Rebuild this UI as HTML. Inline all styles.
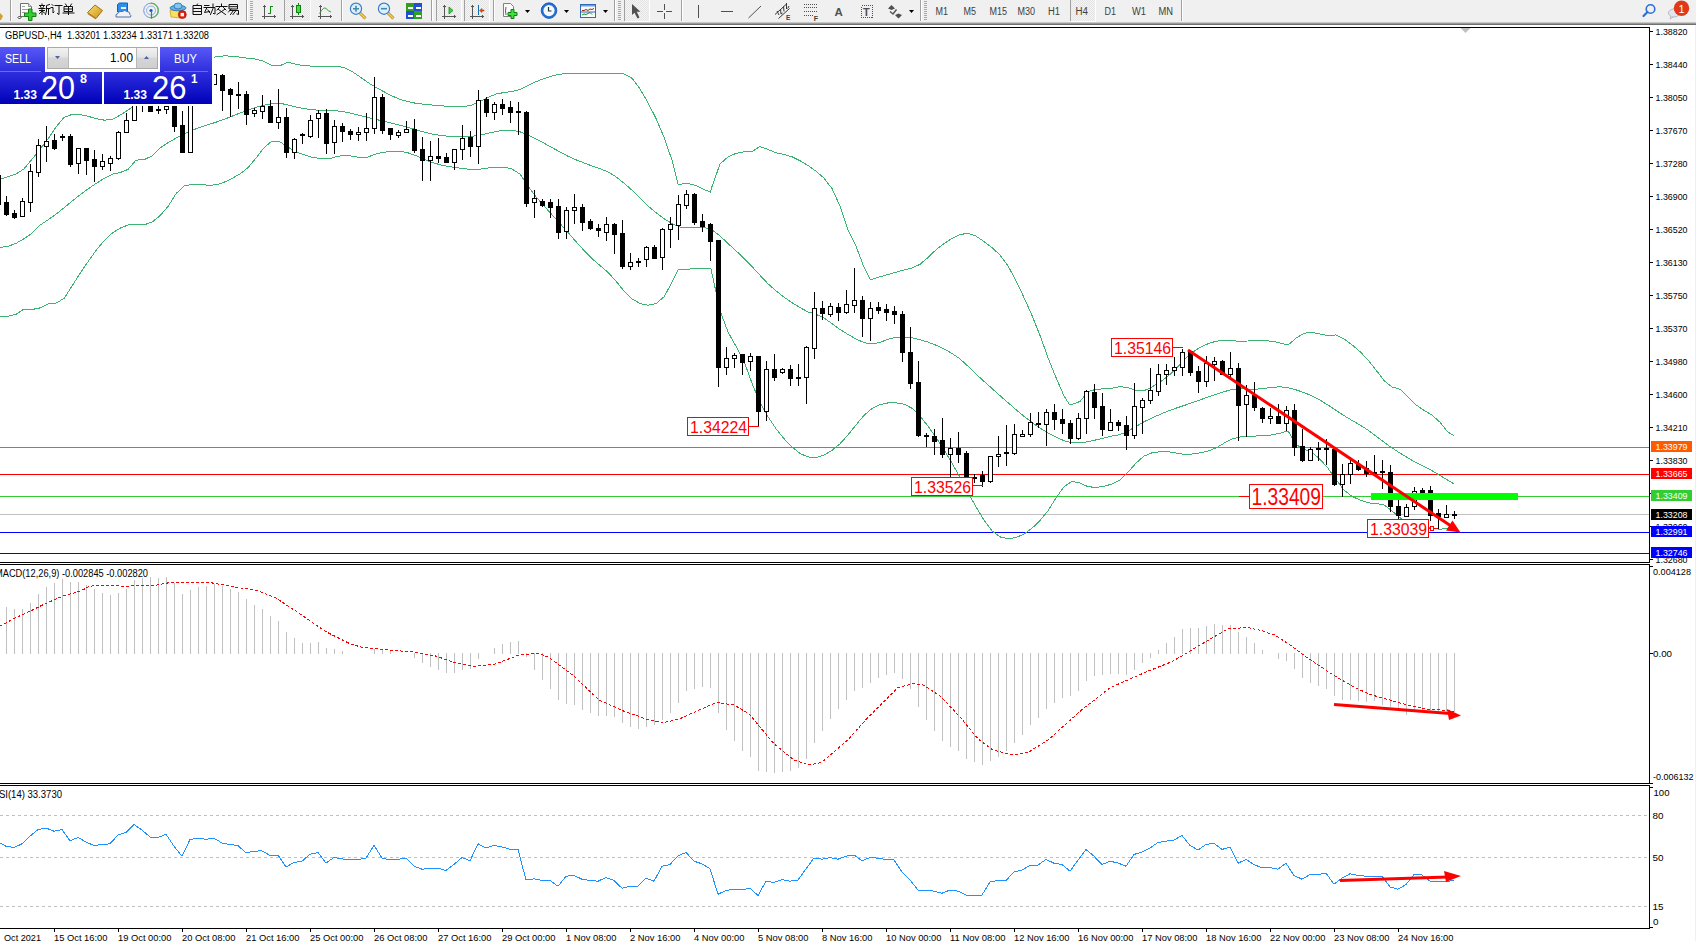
<!DOCTYPE html><html><head><meta charset="utf-8"><style>html,body{margin:0;padding:0;background:#fff;overflow:hidden;width:1696px;height:941px}svg{display:block}text{font-family:"Liberation Sans",sans-serif}</style></head><body>
<svg width="1696" height="941" viewBox="0 0 1696 941">
<rect x="0" y="0" width="1696" height="941" fill="#fff"/>
<g shape-rendering="crispEdges">
<rect x="0" y="447" width="1649" height="1" fill="#FF5A00"/>
<rect x="0" y="474" width="1649" height="1" fill="#FF0000"/>
<rect x="0" y="496" width="1649" height="1" fill="#32CD32"/>
<rect x="0" y="514" width="1649" height="1" fill="#C0C0C0"/>
<rect x="0" y="532" width="1649" height="1" fill="#0000FF"/>
<rect x="0" y="553" width="1649" height="1" fill="#0000FF"/>
</g>
<polyline points="0.0,179.3 8.0,176.7 16.0,174.0 24.0,168.9 32.0,159.3 40.0,149.2 48.0,139.0 56.0,127.0 64.0,117.5 72.0,114.4 80.0,114.5 88.0,116.3 96.0,118.6 104.0,120.1 112.0,119.7 120.0,115.2 128.0,110.0 136.0,105.2 144.0,100.2 152.0,95.1 160.0,90.0 168.0,84.7 176.0,79.2 184.0,73.8 192.0,68.8 200.0,63.7 208.0,59.3 216.0,56.6 224.0,55.9 232.0,56.1 240.0,57.2 248.0,58.3 256.0,59.1 264.0,61.4 272.0,65.6 280.0,65.7 288.0,62.2 296.0,64.4 304.0,65.7 312.0,66.1 320.0,66.1 328.0,66.3 336.0,66.3 344.0,67.5 352.0,71.5 360.0,76.9 368.0,82.6 376.0,87.4 384.0,91.8 392.0,95.9 400.0,99.3 408.0,101.7 416.0,103.3 424.0,104.3 432.0,105.0 440.0,105.7 448.0,106.4 456.0,106.8 464.0,106.5 472.0,105.0 480.0,101.6 488.0,97.4 496.0,94.1 504.0,92.5 512.0,91.6 520.0,89.5 528.0,85.3 536.0,81.7 544.0,78.6 552.0,76.0 560.0,74.2 568.0,73.4 576.0,73.1 584.0,73.2 592.0,73.3 600.0,73.4 608.0,73.8 616.0,73.9 624.0,74.0 632.0,78.2 640.0,89.0 648.0,102.8 656.0,118.5 664.0,137.2 672.0,160.2 678.2,184.7 680.0,184.3 688.0,183.3 696.0,185.7 704.0,189.4 710.3,192.2 712.0,186.6 720.0,164.0 728.0,157.0 736.0,153.3 744.0,151.9 752.0,151.5 760.0,146.5 768.0,149.5 776.0,152.7 784.0,154.4 792.0,156.8 800.0,160.7 808.0,165.5 816.0,171.2 824.0,178.1 832.0,188.6 840.0,206.1 848.0,229.7 856.0,246.3 864.0,267.2 870.5,279.6 872.0,279.2 880.0,276.8 888.0,274.5 896.0,272.2 904.0,270.0 912.0,268.1 920.0,264.3 928.0,257.5 936.0,249.8 944.0,243.6 952.0,238.4 960.0,234.5 968.0,233.4 976.0,236.1 984.0,241.5 992.0,247.6 1000.0,255.0 1008.0,265.8 1016.0,280.7 1024.0,297.6 1032.0,315.5 1040.0,335.4 1048.0,357.6 1056.0,377.6 1064.0,395.9 1069.6,404.9 1072.0,404.5 1080.0,401.4 1088.0,391.8 1096.0,389.2 1104.0,388.9 1112.0,388.2 1120.0,386.6 1128.0,387.6 1136.0,390.3 1144.0,390.7 1152.0,387.0 1160.0,382.0 1168.0,376.1 1176.0,368.9 1184.0,359.8 1192.0,352.6 1200.0,347.5 1208.0,343.8 1216.0,341.2 1224.0,340.3 1232.0,340.8 1240.0,341.2 1248.0,341.0 1256.0,340.7 1264.0,340.6 1272.0,341.2 1280.0,342.9 1288.0,345.1 1296.0,338.2 1304.0,333.3 1312.0,332.3 1320.0,334.1 1328.0,335.5 1336.0,334.9 1344.0,338.9 1352.0,344.8 1360.0,351.6 1368.0,360.0 1376.0,370.0 1384.0,380.6 1392.0,386.9 1400.0,389.3 1408.0,396.9 1416.0,404.8 1424.0,410.3 1432.0,415.2 1440.0,422.2 1448.0,432.2 1454.0,435.6" fill="none" stroke="#3CB371" stroke-width="1" shape-rendering="crispEdges"/>
<polyline points="0.0,247.5 8.0,246.3 16.0,243.4 24.0,238.7 32.0,233.3 40.0,225.1 48.0,219.9 56.0,214.2 64.0,207.8 72.0,201.2 80.0,194.8 88.0,189.0 96.0,183.5 104.0,178.5 112.0,174.3 120.0,172.6 128.0,169.4 136.0,160.1 144.0,159.7 152.0,155.9 160.0,148.0 168.0,142.7 176.0,138.1 184.0,133.9 192.0,130.4 200.0,127.3 208.0,124.7 216.0,122.2 224.0,119.4 232.0,116.2 240.0,113.0 248.0,110.1 256.0,107.4 264.0,105.2 272.0,103.6 280.0,103.3 288.0,104.9 296.0,107.0 304.0,108.5 312.0,109.7 320.0,110.3 328.0,110.5 336.0,110.8 344.0,111.8 352.0,113.5 360.0,115.4 368.0,117.4 376.0,119.4 384.0,121.3 392.0,123.3 400.0,125.2 408.0,127.4 416.0,129.7 424.0,132.1 432.0,134.0 440.0,135.3 448.0,136.2 456.0,136.6 464.0,136.7 472.0,136.3 480.0,135.1 488.0,133.3 496.0,131.5 504.0,130.2 512.0,130.1 520.0,131.8 528.0,135.2 536.0,139.1 544.0,143.1 552.0,147.6 560.0,152.0 568.0,156.2 576.0,159.8 584.0,162.9 592.0,166.0 600.0,168.7 608.0,171.8 616.0,176.8 624.0,183.2 632.0,190.2 640.0,198.1 648.0,205.9 656.0,212.7 664.0,218.7 672.0,223.6 680.0,227.0 688.0,227.8 696.0,227.3 704.0,227.4 712.0,229.9 720.0,235.9 728.0,243.5 736.0,250.8 744.0,258.4 752.0,266.5 760.0,275.3 768.0,283.8 776.0,290.9 784.0,297.1 792.0,302.7 800.0,307.6 808.0,311.9 816.0,314.3 824.0,318.0 832.0,323.6 840.0,329.5 848.0,334.4 856.0,339.0 864.0,342.6 872.0,344.0 880.0,342.3 888.0,339.3 896.0,337.2 904.0,337.0 912.0,337.8 920.0,339.7 928.0,342.1 936.0,345.2 944.0,348.9 952.0,353.4 960.0,358.9 968.0,366.2 976.0,374.0 984.0,381.3 992.0,388.5 1000.0,395.7 1008.0,402.6 1016.0,409.6 1024.0,416.3 1032.0,422.5 1040.0,428.1 1048.0,432.9 1056.0,437.1 1064.0,440.7 1072.0,442.8 1080.0,442.8 1088.0,441.7 1096.0,439.9 1104.0,437.9 1112.0,436.1 1120.0,434.6 1128.0,431.1 1136.0,426.4 1144.0,421.8 1152.0,417.9 1160.0,414.4 1168.0,411.1 1176.0,408.2 1184.0,405.5 1192.0,402.8 1200.0,399.9 1208.0,397.1 1216.0,394.4 1224.0,391.7 1232.0,389.5 1240.0,388.8 1248.0,389.0 1256.0,389.2 1264.0,388.4 1272.0,387.3 1280.0,386.8 1288.0,387.8 1296.0,389.8 1304.0,392.6 1312.0,395.9 1320.0,400.1 1328.0,405.1 1336.0,410.4 1344.0,415.6 1352.0,420.4 1360.0,425.0 1368.0,430.1 1376.0,436.0 1384.0,442.2 1392.0,447.9 1400.0,453.1 1408.0,458.0 1416.0,462.5 1424.0,466.6 1432.0,470.7 1440.0,475.4 1448.0,480.3 1454.0,484.0" fill="none" stroke="#3CB371" stroke-width="1" shape-rendering="crispEdges"/>
<polyline points="0.0,316.3 8.0,316.2 16.0,314.4 24.0,309.1 32.0,309.5 40.0,307.9 48.0,304.0 56.0,303.1 64.0,298.5 72.0,286.1 80.0,273.4 88.0,261.7 96.0,250.5 104.0,240.8 112.0,233.3 120.0,228.2 128.0,225.0 136.0,224.7 144.0,224.9 152.0,222.1 160.0,215.7 168.0,206.5 176.0,193.7 184.0,185.9 192.0,184.4 200.0,184.5 208.0,185.2 216.0,184.9 224.0,182.3 232.0,178.5 240.0,173.9 248.0,167.7 256.0,158.1 264.0,147.7 272.0,141.0 280.0,141.9 288.0,147.1 296.0,151.7 304.0,154.8 312.0,157.2 320.0,158.6 328.0,159.0 336.0,156.8 344.0,155.1 352.0,156.1 360.0,157.5 368.0,157.0 376.0,153.9 384.0,152.3 392.0,151.2 400.0,151.2 408.0,152.8 416.0,155.7 424.0,159.3 432.0,162.5 440.0,164.7 448.0,166.4 456.0,167.6 464.0,168.7 472.0,169.5 480.0,169.1 488.0,168.0 496.0,167.0 504.0,167.0 512.0,169.0 520.0,174.1 528.0,186.0 536.0,196.8 544.0,206.0 552.0,214.7 560.0,223.5 568.0,232.5 576.0,241.6 584.0,250.4 592.0,258.6 600.0,265.5 608.0,272.3 616.0,281.1 624.0,291.2 632.0,298.9 640.0,303.5 648.0,305.2 656.0,303.6 664.0,296.9 672.0,282.3 678.2,269.5 680.0,269.4 688.0,269.1 696.0,268.7 704.0,268.3 710.9,268.0 712.0,273.6 720.0,310.5 728.0,332.0 736.0,346.3 744.0,361.4 752.0,383.2 760.0,402.5 768.0,416.7 776.0,428.7 784.0,438.7 792.0,447.0 800.0,453.5 808.0,456.9 816.0,457.5 824.0,455.2 832.0,450.3 840.0,443.8 848.0,434.9 856.0,424.9 864.0,415.4 872.0,408.5 880.0,404.6 888.0,402.9 896.0,402.8 904.0,404.1 912.0,408.3 920.0,416.0 928.0,426.2 936.0,437.5 944.0,449.8 952.0,463.1 960.0,477.3 968.0,492.7 976.0,506.9 984.0,520.3 992.0,530.9 1000.0,536.9 1008.0,538.8 1016.0,537.6 1024.0,534.0 1032.0,528.3 1040.0,520.4 1048.0,510.8 1056.0,497.9 1064.0,486.7 1072.0,481.3 1080.0,483.1 1088.0,486.7 1096.0,487.4 1104.0,486.2 1112.0,484.1 1120.0,480.2 1128.0,472.1 1136.0,463.1 1144.0,456.1 1152.0,452.8 1160.0,451.8 1168.0,451.7 1176.0,453.0 1184.0,454.3 1192.0,454.0 1200.0,452.9 1208.0,451.0 1216.0,448.0 1224.0,443.2 1232.0,439.0 1240.0,437.0 1248.0,436.4 1256.0,436.0 1264.0,435.5 1272.0,434.9 1280.0,433.2 1288.0,430.9 1296.0,444.5 1304.0,449.3 1312.0,452.3 1320.0,459.3 1328.0,468.3 1336.0,479.4 1344.0,490.1 1352.0,496.3 1360.0,500.1 1368.0,502.8 1376.0,503.5 1384.0,504.8 1392.0,510.9 1400.0,517.7 1408.0,523.6 1416.0,528.0 1424.0,528.3 1432.0,527.8 1440.0,529.3 1448.0,528.2 1454.0,528.0" fill="none" stroke="#3CB371" stroke-width="1" shape-rendering="crispEdges"/>
<g shape-rendering="crispEdges">
<rect x="-2" y="170" width="1" height="37" fill="#000"/>
<rect x="-4" y="175" width="5" height="30" fill="#000"/>
<rect x="6" y="196" width="1" height="20" fill="#000"/>
<rect x="4" y="202" width="5" height="13" fill="#000"/>
<rect x="14" y="210" width="1" height="9" fill="#000"/>
<rect x="12" y="213" width="5" height="5" fill="#000"/>
<rect x="22" y="198" width="1" height="19" fill="#000"/>
<rect x="20" y="201" width="5" height="16" fill="#000"/>
<rect x="21" y="202" width="3" height="14" fill="#fff"/>
<rect x="30" y="164" width="1" height="48" fill="#000"/>
<rect x="28" y="171" width="5" height="32" fill="#000"/>
<rect x="29" y="172" width="3" height="30" fill="#fff"/>
<rect x="38" y="139" width="1" height="38" fill="#000"/>
<rect x="36" y="145" width="5" height="28" fill="#000"/>
<rect x="37" y="146" width="3" height="26" fill="#fff"/>
<rect x="46" y="126" width="1" height="36" fill="#000"/>
<rect x="44" y="141" width="5" height="6" fill="#000"/>
<rect x="45" y="142" width="3" height="4" fill="#fff"/>
<rect x="54" y="134" width="1" height="16" fill="#000"/>
<rect x="52" y="140" width="5" height="9" fill="#000"/>
<rect x="62" y="134" width="1" height="7" fill="#000"/>
<rect x="60" y="136" width="5" height="2" fill="#000"/>
<rect x="70" y="134" width="1" height="33" fill="#000"/>
<rect x="68" y="136" width="5" height="29" fill="#000"/>
<rect x="78" y="148" width="1" height="26" fill="#000"/>
<rect x="76" y="148" width="5" height="16" fill="#000"/>
<rect x="77" y="149" width="3" height="14" fill="#fff"/>
<rect x="86" y="148" width="1" height="27" fill="#000"/>
<rect x="84" y="148" width="5" height="13" fill="#000"/>
<rect x="94" y="150" width="1" height="32" fill="#000"/>
<rect x="92" y="159" width="5" height="8" fill="#000"/>
<rect x="102" y="154" width="1" height="16" fill="#000"/>
<rect x="100" y="161" width="5" height="6" fill="#000"/>
<rect x="101" y="162" width="3" height="4" fill="#fff"/>
<rect x="110" y="156" width="1" height="15" fill="#000"/>
<rect x="108" y="158" width="5" height="6" fill="#000"/>
<rect x="109" y="159" width="3" height="4" fill="#fff"/>
<rect x="118" y="131" width="1" height="29" fill="#000"/>
<rect x="116" y="132" width="5" height="27" fill="#000"/>
<rect x="117" y="133" width="3" height="25" fill="#fff"/>
<rect x="126" y="113" width="1" height="20" fill="#000"/>
<rect x="124" y="120" width="5" height="13" fill="#000"/>
<rect x="125" y="121" width="3" height="11" fill="#fff"/>
<rect x="134" y="95" width="1" height="26" fill="#000"/>
<rect x="132" y="100" width="5" height="21" fill="#000"/>
<rect x="133" y="101" width="3" height="19" fill="#fff"/>
<rect x="142" y="95" width="1" height="17" fill="#000"/>
<rect x="140" y="100" width="5" height="5" fill="#000"/>
<rect x="150" y="100" width="1" height="12" fill="#000"/>
<rect x="148" y="106" width="5" height="6" fill="#000"/>
<rect x="158" y="103" width="1" height="11" fill="#000"/>
<rect x="156" y="109" width="5" height="2" fill="#000"/>
<rect x="166" y="100" width="1" height="14" fill="#000"/>
<rect x="164" y="106" width="5" height="4" fill="#000"/>
<rect x="165" y="107" width="3" height="2" fill="#fff"/>
<rect x="174" y="100" width="1" height="32" fill="#000"/>
<rect x="172" y="106" width="5" height="21" fill="#000"/>
<rect x="182" y="111" width="1" height="42" fill="#000"/>
<rect x="180" y="125" width="5" height="28" fill="#000"/>
<rect x="190" y="85" width="1" height="68" fill="#000"/>
<rect x="188" y="90" width="5" height="63" fill="#000"/>
<rect x="189" y="91" width="3" height="61" fill="#fff"/>
<rect x="198" y="72" width="1" height="24" fill="#000"/>
<rect x="196" y="80" width="5" height="11" fill="#000"/>
<rect x="197" y="81" width="3" height="9" fill="#fff"/>
<rect x="206" y="70" width="1" height="19" fill="#000"/>
<rect x="204" y="75" width="5" height="8" fill="#000"/>
<rect x="205" y="76" width="3" height="6" fill="#fff"/>
<rect x="214" y="74" width="1" height="11" fill="#000"/>
<rect x="212" y="74" width="5" height="11" fill="#000"/>
<rect x="213" y="75" width="3" height="9" fill="#fff"/>
<rect x="222" y="74" width="1" height="37" fill="#000"/>
<rect x="220" y="75" width="5" height="16" fill="#000"/>
<rect x="230" y="88" width="1" height="29" fill="#000"/>
<rect x="228" y="89" width="5" height="6" fill="#000"/>
<rect x="238" y="82" width="1" height="27" fill="#000"/>
<rect x="236" y="94" width="5" height="2" fill="#000"/>
<rect x="246" y="91" width="1" height="34" fill="#000"/>
<rect x="244" y="94" width="5" height="21" fill="#000"/>
<rect x="254" y="108" width="1" height="9" fill="#000"/>
<rect x="252" y="110" width="5" height="4" fill="#000"/>
<rect x="253" y="111" width="3" height="2" fill="#fff"/>
<rect x="262" y="95" width="1" height="24" fill="#000"/>
<rect x="260" y="106" width="5" height="6" fill="#000"/>
<rect x="261" y="107" width="3" height="4" fill="#fff"/>
<rect x="270" y="100" width="1" height="23" fill="#000"/>
<rect x="268" y="106" width="5" height="17" fill="#000"/>
<rect x="278" y="89" width="1" height="40" fill="#000"/>
<rect x="276" y="117" width="5" height="6" fill="#000"/>
<rect x="277" y="118" width="3" height="4" fill="#fff"/>
<rect x="286" y="108" width="1" height="50" fill="#000"/>
<rect x="284" y="117" width="5" height="36" fill="#000"/>
<rect x="294" y="138" width="1" height="21" fill="#000"/>
<rect x="292" y="139" width="5" height="14" fill="#000"/>
<rect x="293" y="140" width="3" height="12" fill="#fff"/>
<rect x="302" y="133" width="1" height="11" fill="#000"/>
<rect x="300" y="134" width="5" height="2" fill="#000"/>
<rect x="310" y="115" width="1" height="23" fill="#000"/>
<rect x="308" y="120" width="5" height="17" fill="#000"/>
<rect x="309" y="121" width="3" height="15" fill="#fff"/>
<rect x="318" y="110" width="1" height="28" fill="#000"/>
<rect x="316" y="113" width="5" height="6" fill="#000"/>
<rect x="317" y="114" width="3" height="4" fill="#fff"/>
<rect x="326" y="109" width="1" height="45" fill="#000"/>
<rect x="324" y="113" width="5" height="31" fill="#000"/>
<rect x="334" y="120" width="1" height="34" fill="#000"/>
<rect x="332" y="126" width="5" height="17" fill="#000"/>
<rect x="333" y="127" width="3" height="15" fill="#fff"/>
<rect x="342" y="123" width="1" height="19" fill="#000"/>
<rect x="340" y="126" width="5" height="6" fill="#000"/>
<rect x="350" y="129" width="1" height="11" fill="#000"/>
<rect x="348" y="131" width="5" height="4" fill="#000"/>
<rect x="358" y="127" width="1" height="14" fill="#000"/>
<rect x="356" y="132" width="5" height="3" fill="#000"/>
<rect x="357" y="133" width="3" height="1" fill="#fff"/>
<rect x="366" y="113" width="1" height="28" fill="#000"/>
<rect x="364" y="128" width="5" height="5" fill="#000"/>
<rect x="365" y="129" width="3" height="3" fill="#fff"/>
<rect x="374" y="77" width="1" height="57" fill="#000"/>
<rect x="372" y="97" width="5" height="32" fill="#000"/>
<rect x="373" y="98" width="3" height="30" fill="#fff"/>
<rect x="382" y="94" width="1" height="40" fill="#000"/>
<rect x="380" y="97" width="5" height="34" fill="#000"/>
<rect x="390" y="128" width="1" height="12" fill="#000"/>
<rect x="388" y="128" width="5" height="7" fill="#000"/>
<rect x="398" y="130" width="1" height="8" fill="#000"/>
<rect x="396" y="132" width="5" height="4" fill="#000"/>
<rect x="397" y="133" width="3" height="2" fill="#fff"/>
<rect x="406" y="121" width="1" height="12" fill="#000"/>
<rect x="404" y="129" width="5" height="4" fill="#000"/>
<rect x="405" y="130" width="3" height="2" fill="#fff"/>
<rect x="414" y="119" width="1" height="34" fill="#000"/>
<rect x="412" y="129" width="5" height="22" fill="#000"/>
<rect x="422" y="137" width="1" height="44" fill="#000"/>
<rect x="420" y="149" width="5" height="12" fill="#000"/>
<rect x="430" y="141" width="1" height="40" fill="#000"/>
<rect x="428" y="156" width="5" height="5" fill="#000"/>
<rect x="429" y="157" width="3" height="3" fill="#fff"/>
<rect x="438" y="138" width="1" height="25" fill="#000"/>
<rect x="436" y="156" width="5" height="3" fill="#000"/>
<rect x="446" y="153" width="1" height="10" fill="#000"/>
<rect x="444" y="157" width="5" height="6" fill="#000"/>
<rect x="454" y="149" width="1" height="21" fill="#000"/>
<rect x="452" y="149" width="5" height="14" fill="#000"/>
<rect x="453" y="150" width="3" height="12" fill="#fff"/>
<rect x="462" y="125" width="1" height="35" fill="#000"/>
<rect x="460" y="138" width="5" height="12" fill="#000"/>
<rect x="461" y="139" width="3" height="10" fill="#fff"/>
<rect x="470" y="131" width="1" height="26" fill="#000"/>
<rect x="468" y="137" width="5" height="10" fill="#000"/>
<rect x="478" y="90" width="1" height="74" fill="#000"/>
<rect x="476" y="100" width="5" height="47" fill="#000"/>
<rect x="477" y="101" width="3" height="45" fill="#fff"/>
<rect x="486" y="97" width="1" height="20" fill="#000"/>
<rect x="484" y="99" width="5" height="14" fill="#000"/>
<rect x="494" y="102" width="1" height="18" fill="#000"/>
<rect x="492" y="104" width="5" height="9" fill="#000"/>
<rect x="493" y="105" width="3" height="7" fill="#fff"/>
<rect x="502" y="99" width="1" height="16" fill="#000"/>
<rect x="500" y="104" width="5" height="5" fill="#000"/>
<rect x="510" y="101" width="1" height="22" fill="#000"/>
<rect x="508" y="107" width="5" height="6" fill="#000"/>
<rect x="518" y="102" width="1" height="33" fill="#000"/>
<rect x="516" y="111" width="5" height="2" fill="#000"/>
<rect x="526" y="111" width="1" height="96" fill="#000"/>
<rect x="524" y="112" width="5" height="92" fill="#000"/>
<rect x="534" y="190" width="1" height="28" fill="#000"/>
<rect x="532" y="198" width="5" height="5" fill="#000"/>
<rect x="533" y="199" width="3" height="3" fill="#fff"/>
<rect x="542" y="199" width="1" height="8" fill="#000"/>
<rect x="540" y="201" width="5" height="5" fill="#000"/>
<rect x="550" y="199" width="1" height="19" fill="#000"/>
<rect x="548" y="202" width="5" height="6" fill="#000"/>
<rect x="558" y="199" width="1" height="40" fill="#000"/>
<rect x="556" y="206" width="5" height="27" fill="#000"/>
<rect x="566" y="207" width="1" height="32" fill="#000"/>
<rect x="564" y="210" width="5" height="22" fill="#000"/>
<rect x="565" y="211" width="3" height="20" fill="#fff"/>
<rect x="574" y="194" width="1" height="30" fill="#000"/>
<rect x="572" y="207" width="5" height="4" fill="#000"/>
<rect x="573" y="208" width="3" height="2" fill="#fff"/>
<rect x="582" y="204" width="1" height="27" fill="#000"/>
<rect x="580" y="207" width="5" height="16" fill="#000"/>
<rect x="590" y="219" width="1" height="11" fill="#000"/>
<rect x="588" y="221" width="5" height="8" fill="#000"/>
<rect x="598" y="224" width="1" height="13" fill="#000"/>
<rect x="596" y="228" width="5" height="3" fill="#000"/>
<rect x="606" y="217" width="1" height="24" fill="#000"/>
<rect x="604" y="224" width="5" height="9" fill="#000"/>
<rect x="605" y="225" width="3" height="7" fill="#fff"/>
<rect x="614" y="223" width="1" height="31" fill="#000"/>
<rect x="612" y="224" width="5" height="11" fill="#000"/>
<rect x="622" y="220" width="1" height="49" fill="#000"/>
<rect x="620" y="233" width="5" height="34" fill="#000"/>
<rect x="630" y="253" width="1" height="17" fill="#000"/>
<rect x="628" y="262" width="5" height="5" fill="#000"/>
<rect x="629" y="263" width="3" height="3" fill="#fff"/>
<rect x="638" y="258" width="1" height="9" fill="#000"/>
<rect x="636" y="261" width="5" height="2" fill="#000"/>
<rect x="646" y="246" width="1" height="21" fill="#000"/>
<rect x="644" y="247" width="5" height="13" fill="#000"/>
<rect x="645" y="248" width="3" height="11" fill="#fff"/>
<rect x="654" y="245" width="1" height="14" fill="#000"/>
<rect x="652" y="247" width="5" height="12" fill="#000"/>
<rect x="662" y="228" width="1" height="42" fill="#000"/>
<rect x="660" y="229" width="5" height="29" fill="#000"/>
<rect x="661" y="230" width="3" height="27" fill="#fff"/>
<rect x="670" y="217" width="1" height="31" fill="#000"/>
<rect x="668" y="224" width="5" height="6" fill="#000"/>
<rect x="669" y="225" width="3" height="4" fill="#fff"/>
<rect x="678" y="195" width="1" height="45" fill="#000"/>
<rect x="676" y="204" width="5" height="22" fill="#000"/>
<rect x="677" y="205" width="3" height="20" fill="#fff"/>
<rect x="686" y="190" width="1" height="19" fill="#000"/>
<rect x="684" y="194" width="5" height="12" fill="#000"/>
<rect x="685" y="195" width="3" height="10" fill="#fff"/>
<rect x="694" y="193" width="1" height="32" fill="#000"/>
<rect x="692" y="194" width="5" height="29" fill="#000"/>
<rect x="702" y="214" width="1" height="18" fill="#000"/>
<rect x="700" y="221" width="5" height="6" fill="#000"/>
<rect x="710" y="223" width="1" height="38" fill="#000"/>
<rect x="708" y="224" width="5" height="18" fill="#000"/>
<rect x="718" y="240" width="1" height="147" fill="#000"/>
<rect x="716" y="240" width="5" height="128" fill="#000"/>
<rect x="726" y="347" width="1" height="28" fill="#000"/>
<rect x="724" y="358" width="5" height="10" fill="#000"/>
<rect x="725" y="359" width="3" height="8" fill="#fff"/>
<rect x="734" y="353" width="1" height="15" fill="#000"/>
<rect x="732" y="355" width="5" height="4" fill="#000"/>
<rect x="733" y="356" width="3" height="2" fill="#fff"/>
<rect x="742" y="354" width="1" height="21" fill="#000"/>
<rect x="740" y="354" width="5" height="9" fill="#000"/>
<rect x="750" y="353" width="1" height="18" fill="#000"/>
<rect x="748" y="356" width="5" height="6" fill="#000"/>
<rect x="749" y="357" width="3" height="4" fill="#fff"/>
<rect x="758" y="356" width="1" height="71" fill="#000"/>
<rect x="756" y="356" width="5" height="56" fill="#000"/>
<rect x="766" y="361" width="1" height="60" fill="#000"/>
<rect x="764" y="369" width="5" height="43" fill="#000"/>
<rect x="765" y="370" width="3" height="41" fill="#fff"/>
<rect x="774" y="354" width="1" height="27" fill="#000"/>
<rect x="772" y="369" width="5" height="9" fill="#000"/>
<rect x="782" y="368" width="1" height="6" fill="#000"/>
<rect x="780" y="369" width="5" height="4" fill="#000"/>
<rect x="781" y="370" width="3" height="2" fill="#fff"/>
<rect x="790" y="365" width="1" height="21" fill="#000"/>
<rect x="788" y="369" width="5" height="10" fill="#000"/>
<rect x="798" y="364" width="1" height="22" fill="#000"/>
<rect x="796" y="377" width="5" height="2" fill="#000"/>
<rect x="806" y="346" width="1" height="58" fill="#000"/>
<rect x="804" y="347" width="5" height="31" fill="#000"/>
<rect x="805" y="348" width="3" height="29" fill="#fff"/>
<rect x="814" y="292" width="1" height="67" fill="#000"/>
<rect x="812" y="308" width="5" height="41" fill="#000"/>
<rect x="813" y="309" width="3" height="39" fill="#fff"/>
<rect x="822" y="301" width="1" height="19" fill="#000"/>
<rect x="820" y="308" width="5" height="6" fill="#000"/>
<rect x="830" y="303" width="1" height="14" fill="#000"/>
<rect x="828" y="306" width="5" height="9" fill="#000"/>
<rect x="829" y="307" width="3" height="7" fill="#fff"/>
<rect x="838" y="303" width="1" height="18" fill="#000"/>
<rect x="836" y="307" width="5" height="6" fill="#000"/>
<rect x="846" y="290" width="1" height="24" fill="#000"/>
<rect x="844" y="304" width="5" height="9" fill="#000"/>
<rect x="845" y="305" width="3" height="7" fill="#fff"/>
<rect x="854" y="268" width="1" height="45" fill="#000"/>
<rect x="852" y="300" width="5" height="6" fill="#000"/>
<rect x="853" y="301" width="3" height="4" fill="#fff"/>
<rect x="862" y="296" width="1" height="41" fill="#000"/>
<rect x="860" y="300" width="5" height="19" fill="#000"/>
<rect x="870" y="302" width="1" height="39" fill="#000"/>
<rect x="868" y="308" width="5" height="11" fill="#000"/>
<rect x="869" y="309" width="3" height="9" fill="#fff"/>
<rect x="878" y="302" width="1" height="12" fill="#000"/>
<rect x="876" y="307" width="5" height="4" fill="#000"/>
<rect x="886" y="304" width="1" height="17" fill="#000"/>
<rect x="884" y="309" width="5" height="4" fill="#000"/>
<rect x="894" y="306" width="1" height="18" fill="#000"/>
<rect x="892" y="311" width="5" height="4" fill="#000"/>
<rect x="902" y="311" width="1" height="51" fill="#000"/>
<rect x="900" y="314" width="5" height="39" fill="#000"/>
<rect x="910" y="327" width="1" height="62" fill="#000"/>
<rect x="908" y="352" width="5" height="32" fill="#000"/>
<rect x="918" y="361" width="1" height="76" fill="#000"/>
<rect x="916" y="382" width="5" height="54" fill="#000"/>
<rect x="926" y="433" width="1" height="14" fill="#000"/>
<rect x="924" y="435" width="5" height="2" fill="#000"/>
<rect x="934" y="429" width="1" height="26" fill="#000"/>
<rect x="932" y="436" width="5" height="6" fill="#000"/>
<rect x="942" y="418" width="1" height="40" fill="#000"/>
<rect x="940" y="440" width="5" height="15" fill="#000"/>
<rect x="950" y="438" width="1" height="40" fill="#000"/>
<rect x="948" y="448" width="5" height="7" fill="#000"/>
<rect x="949" y="449" width="3" height="5" fill="#fff"/>
<rect x="958" y="432" width="1" height="31" fill="#000"/>
<rect x="956" y="448" width="5" height="7" fill="#000"/>
<rect x="966" y="451" width="1" height="31" fill="#000"/>
<rect x="964" y="453" width="5" height="26" fill="#000"/>
<rect x="974" y="474" width="1" height="9" fill="#000"/>
<rect x="972" y="477" width="5" height="2" fill="#000"/>
<rect x="982" y="471" width="1" height="16" fill="#000"/>
<rect x="980" y="475" width="5" height="7" fill="#000"/>
<rect x="990" y="456" width="1" height="27" fill="#000"/>
<rect x="988" y="456" width="5" height="26" fill="#000"/>
<rect x="989" y="457" width="3" height="24" fill="#fff"/>
<rect x="998" y="436" width="1" height="31" fill="#000"/>
<rect x="996" y="454" width="5" height="3" fill="#000"/>
<rect x="997" y="455" width="3" height="1" fill="#fff"/>
<rect x="1006" y="425" width="1" height="41" fill="#000"/>
<rect x="1004" y="452" width="5" height="2" fill="#000"/>
<rect x="1014" y="424" width="1" height="31" fill="#000"/>
<rect x="1012" y="434" width="5" height="20" fill="#000"/>
<rect x="1013" y="435" width="3" height="18" fill="#fff"/>
<rect x="1022" y="430" width="1" height="7" fill="#000"/>
<rect x="1020" y="434" width="5" height="3" fill="#000"/>
<rect x="1021" y="435" width="3" height="1" fill="#fff"/>
<rect x="1030" y="413" width="1" height="24" fill="#000"/>
<rect x="1028" y="422" width="5" height="13" fill="#000"/>
<rect x="1029" y="423" width="3" height="11" fill="#fff"/>
<rect x="1038" y="412" width="1" height="16" fill="#000"/>
<rect x="1036" y="423" width="5" height="2" fill="#000"/>
<rect x="1046" y="409" width="1" height="37" fill="#000"/>
<rect x="1044" y="412" width="5" height="13" fill="#000"/>
<rect x="1045" y="413" width="3" height="11" fill="#fff"/>
<rect x="1054" y="404" width="1" height="26" fill="#000"/>
<rect x="1052" y="412" width="5" height="8" fill="#000"/>
<rect x="1062" y="409" width="1" height="25" fill="#000"/>
<rect x="1060" y="419" width="5" height="5" fill="#000"/>
<rect x="1070" y="420" width="1" height="24" fill="#000"/>
<rect x="1068" y="423" width="5" height="16" fill="#000"/>
<rect x="1078" y="413" width="1" height="27" fill="#000"/>
<rect x="1076" y="418" width="5" height="21" fill="#000"/>
<rect x="1077" y="419" width="3" height="19" fill="#fff"/>
<rect x="1086" y="390" width="1" height="44" fill="#000"/>
<rect x="1084" y="391" width="5" height="28" fill="#000"/>
<rect x="1085" y="392" width="3" height="26" fill="#fff"/>
<rect x="1094" y="384" width="1" height="35" fill="#000"/>
<rect x="1092" y="392" width="5" height="16" fill="#000"/>
<rect x="1102" y="393" width="1" height="43" fill="#000"/>
<rect x="1100" y="406" width="5" height="24" fill="#000"/>
<rect x="1110" y="409" width="1" height="22" fill="#000"/>
<rect x="1108" y="422" width="5" height="9" fill="#000"/>
<rect x="1109" y="423" width="3" height="7" fill="#fff"/>
<rect x="1118" y="420" width="1" height="11" fill="#000"/>
<rect x="1116" y="422" width="5" height="4" fill="#000"/>
<rect x="1126" y="416" width="1" height="34" fill="#000"/>
<rect x="1124" y="425" width="5" height="11" fill="#000"/>
<rect x="1134" y="383" width="1" height="56" fill="#000"/>
<rect x="1132" y="406" width="5" height="30" fill="#000"/>
<rect x="1133" y="407" width="3" height="28" fill="#fff"/>
<rect x="1142" y="398" width="1" height="36" fill="#000"/>
<rect x="1140" y="400" width="5" height="8" fill="#000"/>
<rect x="1141" y="401" width="3" height="6" fill="#fff"/>
<rect x="1150" y="368" width="1" height="36" fill="#000"/>
<rect x="1148" y="390" width="5" height="11" fill="#000"/>
<rect x="1149" y="391" width="3" height="9" fill="#fff"/>
<rect x="1158" y="364" width="1" height="32" fill="#000"/>
<rect x="1156" y="374" width="5" height="18" fill="#000"/>
<rect x="1157" y="375" width="3" height="16" fill="#fff"/>
<rect x="1166" y="364" width="1" height="21" fill="#000"/>
<rect x="1164" y="370" width="5" height="5" fill="#000"/>
<rect x="1165" y="371" width="3" height="3" fill="#fff"/>
<rect x="1174" y="357" width="1" height="19" fill="#000"/>
<rect x="1172" y="367" width="5" height="4" fill="#000"/>
<rect x="1173" y="368" width="3" height="2" fill="#fff"/>
<rect x="1182" y="349" width="1" height="27" fill="#000"/>
<rect x="1180" y="352" width="5" height="16" fill="#000"/>
<rect x="1181" y="353" width="3" height="14" fill="#fff"/>
<rect x="1190" y="350" width="1" height="26" fill="#000"/>
<rect x="1188" y="351" width="5" height="22" fill="#000"/>
<rect x="1198" y="366" width="1" height="27" fill="#000"/>
<rect x="1196" y="371" width="5" height="11" fill="#000"/>
<rect x="1206" y="356" width="1" height="31" fill="#000"/>
<rect x="1204" y="363" width="5" height="19" fill="#000"/>
<rect x="1205" y="364" width="3" height="17" fill="#fff"/>
<rect x="1214" y="357" width="1" height="24" fill="#000"/>
<rect x="1212" y="361" width="5" height="4" fill="#000"/>
<rect x="1213" y="362" width="3" height="2" fill="#fff"/>
<rect x="1222" y="360" width="1" height="15" fill="#000"/>
<rect x="1220" y="361" width="5" height="14" fill="#000"/>
<rect x="1230" y="352" width="1" height="26" fill="#000"/>
<rect x="1228" y="368" width="5" height="7" fill="#000"/>
<rect x="1229" y="369" width="3" height="5" fill="#fff"/>
<rect x="1238" y="363" width="1" height="78" fill="#000"/>
<rect x="1236" y="368" width="5" height="38" fill="#000"/>
<rect x="1246" y="385" width="1" height="52" fill="#000"/>
<rect x="1244" y="395" width="5" height="10" fill="#000"/>
<rect x="1245" y="396" width="3" height="8" fill="#fff"/>
<rect x="1254" y="382" width="1" height="29" fill="#000"/>
<rect x="1252" y="395" width="5" height="13" fill="#000"/>
<rect x="1262" y="407" width="1" height="16" fill="#000"/>
<rect x="1260" y="408" width="5" height="11" fill="#000"/>
<rect x="1270" y="408" width="1" height="16" fill="#000"/>
<rect x="1268" y="416" width="5" height="3" fill="#000"/>
<rect x="1269" y="417" width="3" height="1" fill="#fff"/>
<rect x="1278" y="404" width="1" height="20" fill="#000"/>
<rect x="1276" y="416" width="5" height="8" fill="#000"/>
<rect x="1286" y="406" width="1" height="25" fill="#000"/>
<rect x="1284" y="410" width="5" height="14" fill="#000"/>
<rect x="1285" y="411" width="3" height="12" fill="#fff"/>
<rect x="1294" y="404" width="1" height="52" fill="#000"/>
<rect x="1292" y="410" width="5" height="38" fill="#000"/>
<rect x="1302" y="429" width="1" height="33" fill="#000"/>
<rect x="1300" y="446" width="5" height="15" fill="#000"/>
<rect x="1310" y="447" width="1" height="14" fill="#000"/>
<rect x="1308" y="449" width="5" height="12" fill="#000"/>
<rect x="1309" y="450" width="3" height="10" fill="#fff"/>
<rect x="1318" y="442" width="1" height="19" fill="#000"/>
<rect x="1316" y="448" width="5" height="2" fill="#000"/>
<rect x="1326" y="439" width="1" height="26" fill="#000"/>
<rect x="1324" y="448" width="5" height="2" fill="#000"/>
<rect x="1334" y="447" width="1" height="39" fill="#000"/>
<rect x="1332" y="449" width="5" height="36" fill="#000"/>
<rect x="1342" y="464" width="1" height="33" fill="#000"/>
<rect x="1340" y="474" width="5" height="11" fill="#000"/>
<rect x="1341" y="475" width="3" height="9" fill="#fff"/>
<rect x="1350" y="457" width="1" height="27" fill="#000"/>
<rect x="1348" y="463" width="5" height="12" fill="#000"/>
<rect x="1349" y="464" width="3" height="10" fill="#fff"/>
<rect x="1358" y="460" width="1" height="11" fill="#000"/>
<rect x="1356" y="464" width="5" height="6" fill="#000"/>
<rect x="1366" y="461" width="1" height="16" fill="#000"/>
<rect x="1364" y="468" width="5" height="6" fill="#000"/>
<rect x="1374" y="455" width="1" height="20" fill="#000"/>
<rect x="1372" y="472" width="5" height="2" fill="#000"/>
<rect x="1382" y="460" width="1" height="29" fill="#000"/>
<rect x="1380" y="471" width="5" height="2" fill="#000"/>
<rect x="1390" y="465" width="1" height="47" fill="#000"/>
<rect x="1388" y="472" width="5" height="35" fill="#000"/>
<rect x="1398" y="500" width="1" height="20" fill="#000"/>
<rect x="1396" y="506" width="5" height="10" fill="#000"/>
<rect x="1406" y="504" width="1" height="13" fill="#000"/>
<rect x="1404" y="507" width="5" height="10" fill="#000"/>
<rect x="1405" y="508" width="3" height="8" fill="#fff"/>
<rect x="1414" y="487" width="1" height="23" fill="#000"/>
<rect x="1412" y="491" width="5" height="16" fill="#000"/>
<rect x="1413" y="492" width="3" height="14" fill="#fff"/>
<rect x="1422" y="488" width="1" height="6" fill="#000"/>
<rect x="1420" y="490" width="5" height="3" fill="#000"/>
<rect x="1430" y="486" width="1" height="35" fill="#000"/>
<rect x="1428" y="490" width="5" height="26" fill="#000"/>
<rect x="1438" y="509" width="1" height="20" fill="#000"/>
<rect x="1436" y="513" width="5" height="4" fill="#000"/>
<rect x="1446" y="505" width="1" height="13" fill="#000"/>
<rect x="1444" y="514" width="5" height="4" fill="#000"/>
<rect x="1445" y="515" width="3" height="2" fill="#fff"/>
<rect x="1454" y="511" width="1" height="8" fill="#000"/>
<rect x="1452" y="514" width="5" height="2" fill="#000"/>
</g>
<rect x="1111.5" y="338.5" width="61" height="18" fill="#fff" stroke="#FF0000" stroke-width="1"/>
<text x="1114" y="354" font-size="16.5" fill="#FF0000" text-anchor="start" font-weight="normal" textLength="57" lengthAdjust="spacingAndGlyphs" >1.35146</text>
<rect x="1173" y="347" width="10" height="1" fill="#FF0000" shape-rendering="crispEdges"/>
<rect x="687.5" y="417.5" width="61" height="18" fill="#fff" stroke="#FF0000" stroke-width="1"/>
<text x="690" y="433" font-size="16.5" fill="#FF0000" text-anchor="start" font-weight="normal" textLength="57" lengthAdjust="spacingAndGlyphs" >1.34224</text>
<rect x="749" y="426" width="10" height="1" fill="#FF0000" shape-rendering="crispEdges"/>
<rect x="911.5" y="477.5" width="61" height="18" fill="#fff" stroke="#FF0000" stroke-width="1"/>
<text x="914" y="493" font-size="16.5" fill="#FF0000" text-anchor="start" font-weight="normal" textLength="57" lengthAdjust="spacingAndGlyphs" >1.33526</text>
<rect x="973" y="485" width="10" height="1" fill="#FF0000" shape-rendering="crispEdges"/>
<rect x="1367.5" y="519.5" width="61" height="18" fill="#fff" stroke="#FF0000" stroke-width="1"/>
<text x="1370" y="535" font-size="16.5" fill="#FF0000" text-anchor="start" font-weight="normal" textLength="57" lengthAdjust="spacingAndGlyphs" >1.33039</text>
<rect x="1429" y="528" width="9" height="1" fill="#FF0000" shape-rendering="crispEdges"/>
<rect x="1430" y="526" width="3" height="4" fill="#fff" stroke="#FF0000" stroke-width="1" shape-rendering="crispEdges"/>
<rect x="1239" y="496" width="10" height="1" fill="#FF0000" shape-rendering="crispEdges"/>
<rect x="1249.5" y="484.5" width="73" height="24" fill="#fff" stroke="#FF0000" stroke-width="1"/>
<text x="1251.5" y="505.3" font-size="23" fill="#FF0000" text-anchor="start" font-weight="normal" textLength="69.5" lengthAdjust="spacingAndGlyphs" >1.33409</text>
<rect x="1371" y="493" width="147" height="7" fill="#00FF00" shape-rendering="crispEdges"/>
<line x1="1188" y1="350" x2="1451" y2="526" stroke="#FF0000" stroke-width="3"/>
<polygon points="1460.5,532.5 1446,530.5 1452.5,520.5" fill="#FF0000"/>
<polygon points="1460.5,28 1470.5,28 1465.5,33" fill="#C0C0C0"/>
<defs>
<linearGradient id="gTab" x1="0" y1="0" x2="0" y2="1"><stop offset="0" stop-color="#5858F8"/><stop offset="1" stop-color="#2E2EDC"/></linearGradient>
<linearGradient id="gPrice" x1="0" y1="0" x2="0" y2="1"><stop offset="0" stop-color="#3030E0"/><stop offset="1" stop-color="#0000B8"/></linearGradient>
<linearGradient id="gBtn" x1="0" y1="0" x2="0" y2="1"><stop offset="0" stop-color="#F2F2F2"/><stop offset="0.45" stop-color="#E4E4E4"/><stop offset="0.5" stop-color="#D6D6D6"/><stop offset="1" stop-color="#CFCFCF"/></linearGradient>
</defs>
<g shape-rendering="crispEdges">
<rect x="0" y="47" width="214" height="59" fill="#fff"/>
<rect x="0" y="47" width="45" height="25" fill="url(#gTab)"/>
<rect x="160" y="47" width="52" height="25" fill="url(#gTab)"/>
<rect x="0" y="71" width="102" height="33" fill="url(#gPrice)"/>
<rect x="104" y="71" width="108" height="33" fill="url(#gPrice)"/>
<rect x="45" y="47" width="115" height="25" fill="#fff"/>
<rect x="0" y="71" width="41" height="1" fill="#6A6AF0"/>
<rect x="164" y="71" width="44" height="1" fill="#6A6AF0"/>
<rect x="47.5" y="47.5" width="110" height="21" fill="#fff" stroke="#A8A8A8"/>
<rect x="48" y="48" width="20" height="20" fill="url(#gBtn)"/>
<rect x="68" y="48" width="1" height="20" fill="#B8B8B8"/>
<rect x="137" y="48" width="20" height="20" fill="url(#gBtn)"/>
<rect x="136" y="48" width="1" height="20" fill="#B8B8B8"/>
</g>
<polygon points="55,56 60,56 57.5,59" fill="#5060A8"/>
<polygon points="144,59 149,59 146.5,56" fill="#5060A8"/>
<text x="110" y="62" font-size="12.5" fill="#000" text-anchor="start" font-weight="normal" textLength="23" lengthAdjust="spacingAndGlyphs" >1.00</text>
<text x="5" y="63" font-size="12.5" fill="#fff" text-anchor="start" font-weight="normal" textLength="26" lengthAdjust="spacingAndGlyphs" >SELL</text>
<text x="174" y="63" font-size="12.5" fill="#fff" text-anchor="start" font-weight="normal" textLength="23" lengthAdjust="spacingAndGlyphs" >BUY</text>
<text x="13.5" y="99" font-size="12" fill="#fff" text-anchor="start" font-weight="bold" textLength="23.5" lengthAdjust="spacingAndGlyphs" >1.33</text>
<text x="41" y="99" font-size="33" fill="#fff" text-anchor="start" font-weight="normal" textLength="34" lengthAdjust="spacingAndGlyphs" >20</text>
<text x="80" y="83" font-size="12" fill="#fff" text-anchor="start" font-weight="bold" textLength="7" lengthAdjust="spacingAndGlyphs" >8</text>
<text x="123.5" y="99" font-size="12" fill="#fff" text-anchor="start" font-weight="bold" textLength="23.5" lengthAdjust="spacingAndGlyphs" >1.33</text>
<text x="152" y="99" font-size="33" fill="#fff" text-anchor="start" font-weight="normal" textLength="34.5" lengthAdjust="spacingAndGlyphs" >26</text>
<text x="191" y="83" font-size="12" fill="#fff" text-anchor="start" font-weight="bold" textLength="6.5" lengthAdjust="spacingAndGlyphs" >1</text>
<text x="5" y="39" font-size="10" fill="#000" text-anchor="start" font-weight="normal" textLength="204" lengthAdjust="spacingAndGlyphs" >GBPUSD-,H4&#160;&#160;1.33201 1.33234 1.33171 1.33208</text>
<g shape-rendering="crispEdges">
<rect x="6" y="607" width="1" height="47" fill="#C0C0C0"/>
<rect x="14" y="609" width="1" height="45" fill="#C0C0C0"/>
<rect x="22" y="609" width="1" height="45" fill="#C0C0C0"/>
<rect x="30" y="603" width="1" height="51" fill="#C0C0C0"/>
<rect x="38" y="594" width="1" height="60" fill="#C0C0C0"/>
<rect x="46" y="587" width="1" height="67" fill="#C0C0C0"/>
<rect x="54" y="583" width="1" height="71" fill="#C0C0C0"/>
<rect x="62" y="579" width="1" height="75" fill="#C0C0C0"/>
<rect x="70" y="582" width="1" height="72" fill="#C0C0C0"/>
<rect x="78" y="582" width="1" height="72" fill="#C0C0C0"/>
<rect x="86" y="585" width="1" height="69" fill="#C0C0C0"/>
<rect x="94" y="589" width="1" height="65" fill="#C0C0C0"/>
<rect x="102" y="593" width="1" height="61" fill="#C0C0C0"/>
<rect x="110" y="595" width="1" height="59" fill="#C0C0C0"/>
<rect x="118" y="593" width="1" height="61" fill="#C0C0C0"/>
<rect x="126" y="589" width="1" height="65" fill="#C0C0C0"/>
<rect x="134" y="580" width="1" height="74" fill="#C0C0C0"/>
<rect x="142" y="578" width="1" height="76" fill="#C0C0C0"/>
<rect x="150" y="577" width="1" height="77" fill="#C0C0C0"/>
<rect x="158" y="578" width="1" height="76" fill="#C0C0C0"/>
<rect x="166" y="577" width="1" height="77" fill="#C0C0C0"/>
<rect x="174" y="583" width="1" height="71" fill="#C0C0C0"/>
<rect x="182" y="594" width="1" height="60" fill="#C0C0C0"/>
<rect x="190" y="590" width="1" height="64" fill="#C0C0C0"/>
<rect x="198" y="587" width="1" height="67" fill="#C0C0C0"/>
<rect x="206" y="586" width="1" height="68" fill="#C0C0C0"/>
<rect x="214" y="584" width="1" height="70" fill="#C0C0C0"/>
<rect x="222" y="586" width="1" height="68" fill="#C0C0C0"/>
<rect x="230" y="589" width="1" height="65" fill="#C0C0C0"/>
<rect x="238" y="592" width="1" height="62" fill="#C0C0C0"/>
<rect x="246" y="599" width="1" height="55" fill="#C0C0C0"/>
<rect x="254" y="605" width="1" height="49" fill="#C0C0C0"/>
<rect x="262" y="609" width="1" height="45" fill="#C0C0C0"/>
<rect x="270" y="616" width="1" height="38" fill="#C0C0C0"/>
<rect x="278" y="621" width="1" height="33" fill="#C0C0C0"/>
<rect x="286" y="632" width="1" height="22" fill="#C0C0C0"/>
<rect x="294" y="638" width="1" height="16" fill="#C0C0C0"/>
<rect x="302" y="643" width="1" height="11" fill="#C0C0C0"/>
<rect x="310" y="643" width="1" height="11" fill="#C0C0C0"/>
<rect x="318" y="642" width="1" height="12" fill="#C0C0C0"/>
<rect x="326" y="648" width="1" height="6" fill="#C0C0C0"/>
<rect x="334" y="649" width="1" height="5" fill="#C0C0C0"/>
<rect x="342" y="651" width="1" height="3" fill="#C0C0C0"/>
<rect x="374" y="649" width="1" height="5" fill="#C0C0C0"/>
<rect x="382" y="649" width="1" height="5" fill="#C0C0C0"/>
<rect x="390" y="651" width="1" height="3" fill="#C0C0C0"/>
<rect x="414" y="653" width="1" height="5" fill="#C0C0C0"/>
<rect x="422" y="653" width="1" height="10" fill="#C0C0C0"/>
<rect x="430" y="653" width="1" height="14" fill="#C0C0C0"/>
<rect x="438" y="653" width="1" height="17" fill="#C0C0C0"/>
<rect x="446" y="653" width="1" height="20" fill="#C0C0C0"/>
<rect x="454" y="653" width="1" height="20" fill="#C0C0C0"/>
<rect x="462" y="653" width="1" height="17" fill="#C0C0C0"/>
<rect x="470" y="653" width="1" height="16" fill="#C0C0C0"/>
<rect x="478" y="653" width="1" height="6" fill="#C0C0C0"/>
<rect x="494" y="648" width="1" height="6" fill="#C0C0C0"/>
<rect x="502" y="644" width="1" height="10" fill="#C0C0C0"/>
<rect x="510" y="642" width="1" height="12" fill="#C0C0C0"/>
<rect x="518" y="641" width="1" height="13" fill="#C0C0C0"/>
<rect x="526" y="653" width="1" height="4" fill="#C0C0C0"/>
<rect x="534" y="653" width="1" height="17" fill="#C0C0C0"/>
<rect x="542" y="653" width="1" height="27" fill="#C0C0C0"/>
<rect x="550" y="653" width="1" height="36" fill="#C0C0C0"/>
<rect x="558" y="653" width="1" height="47" fill="#C0C0C0"/>
<rect x="566" y="653" width="1" height="51" fill="#C0C0C0"/>
<rect x="574" y="653" width="1" height="52" fill="#C0C0C0"/>
<rect x="582" y="653" width="1" height="57" fill="#C0C0C0"/>
<rect x="590" y="653" width="1" height="60" fill="#C0C0C0"/>
<rect x="598" y="653" width="1" height="63" fill="#C0C0C0"/>
<rect x="606" y="653" width="1" height="63" fill="#C0C0C0"/>
<rect x="614" y="653" width="1" height="64" fill="#C0C0C0"/>
<rect x="622" y="653" width="1" height="70" fill="#C0C0C0"/>
<rect x="630" y="653" width="1" height="74" fill="#C0C0C0"/>
<rect x="638" y="653" width="1" height="76" fill="#C0C0C0"/>
<rect x="646" y="653" width="1" height="74" fill="#C0C0C0"/>
<rect x="654" y="653" width="1" height="72" fill="#C0C0C0"/>
<rect x="662" y="653" width="1" height="67" fill="#C0C0C0"/>
<rect x="670" y="653" width="1" height="60" fill="#C0C0C0"/>
<rect x="678" y="653" width="1" height="50" fill="#C0C0C0"/>
<rect x="686" y="653" width="1" height="38" fill="#C0C0C0"/>
<rect x="694" y="653" width="1" height="36" fill="#C0C0C0"/>
<rect x="702" y="653" width="1" height="34" fill="#C0C0C0"/>
<rect x="710" y="653" width="1" height="35" fill="#C0C0C0"/>
<rect x="718" y="653" width="1" height="60" fill="#C0C0C0"/>
<rect x="726" y="653" width="1" height="77" fill="#C0C0C0"/>
<rect x="734" y="653" width="1" height="88" fill="#C0C0C0"/>
<rect x="742" y="653" width="1" height="98" fill="#C0C0C0"/>
<rect x="750" y="653" width="1" height="104" fill="#C0C0C0"/>
<rect x="758" y="653" width="1" height="118" fill="#C0C0C0"/>
<rect x="766" y="653" width="1" height="119" fill="#C0C0C0"/>
<rect x="774" y="653" width="1" height="120" fill="#C0C0C0"/>
<rect x="782" y="653" width="1" height="119" fill="#C0C0C0"/>
<rect x="790" y="653" width="1" height="118" fill="#C0C0C0"/>
<rect x="798" y="653" width="1" height="115" fill="#C0C0C0"/>
<rect x="806" y="653" width="1" height="106" fill="#C0C0C0"/>
<rect x="814" y="653" width="1" height="90" fill="#C0C0C0"/>
<rect x="822" y="653" width="1" height="78" fill="#C0C0C0"/>
<rect x="830" y="653" width="1" height="66" fill="#C0C0C0"/>
<rect x="838" y="653" width="1" height="56" fill="#C0C0C0"/>
<rect x="846" y="653" width="1" height="47" fill="#C0C0C0"/>
<rect x="854" y="653" width="1" height="38" fill="#C0C0C0"/>
<rect x="862" y="653" width="1" height="35" fill="#C0C0C0"/>
<rect x="870" y="653" width="1" height="30" fill="#C0C0C0"/>
<rect x="878" y="653" width="1" height="25" fill="#C0C0C0"/>
<rect x="886" y="653" width="1" height="22" fill="#C0C0C0"/>
<rect x="894" y="653" width="1" height="20" fill="#C0C0C0"/>
<rect x="902" y="653" width="1" height="26" fill="#C0C0C0"/>
<rect x="910" y="653" width="1" height="36" fill="#C0C0C0"/>
<rect x="918" y="653" width="1" height="54" fill="#C0C0C0"/>
<rect x="926" y="653" width="1" height="67" fill="#C0C0C0"/>
<rect x="934" y="653" width="1" height="78" fill="#C0C0C0"/>
<rect x="942" y="653" width="1" height="88" fill="#C0C0C0"/>
<rect x="950" y="653" width="1" height="94" fill="#C0C0C0"/>
<rect x="958" y="653" width="1" height="98" fill="#C0C0C0"/>
<rect x="966" y="653" width="1" height="106" fill="#C0C0C0"/>
<rect x="974" y="653" width="1" height="109" fill="#C0C0C0"/>
<rect x="982" y="653" width="1" height="112" fill="#C0C0C0"/>
<rect x="990" y="653" width="1" height="108" fill="#C0C0C0"/>
<rect x="998" y="653" width="1" height="104" fill="#C0C0C0"/>
<rect x="1006" y="653" width="1" height="98" fill="#C0C0C0"/>
<rect x="1014" y="653" width="1" height="90" fill="#C0C0C0"/>
<rect x="1022" y="653" width="1" height="82" fill="#C0C0C0"/>
<rect x="1030" y="653" width="1" height="72" fill="#C0C0C0"/>
<rect x="1038" y="653" width="1" height="65" fill="#C0C0C0"/>
<rect x="1046" y="653" width="1" height="56" fill="#C0C0C0"/>
<rect x="1054" y="653" width="1" height="50" fill="#C0C0C0"/>
<rect x="1062" y="653" width="1" height="45" fill="#C0C0C0"/>
<rect x="1070" y="653" width="1" height="43" fill="#C0C0C0"/>
<rect x="1078" y="653" width="1" height="38" fill="#C0C0C0"/>
<rect x="1086" y="653" width="1" height="28" fill="#C0C0C0"/>
<rect x="1094" y="653" width="1" height="23" fill="#C0C0C0"/>
<rect x="1102" y="653" width="1" height="22" fill="#C0C0C0"/>
<rect x="1110" y="653" width="1" height="21" fill="#C0C0C0"/>
<rect x="1118" y="653" width="1" height="21" fill="#C0C0C0"/>
<rect x="1126" y="653" width="1" height="22" fill="#C0C0C0"/>
<rect x="1134" y="653" width="1" height="17" fill="#C0C0C0"/>
<rect x="1142" y="653" width="1" height="10" fill="#C0C0C0"/>
<rect x="1150" y="653" width="1" height="5" fill="#C0C0C0"/>
<rect x="1158" y="650" width="1" height="4" fill="#C0C0C0"/>
<rect x="1166" y="643" width="1" height="11" fill="#C0C0C0"/>
<rect x="1174" y="637" width="1" height="17" fill="#C0C0C0"/>
<rect x="1182" y="629" width="1" height="25" fill="#C0C0C0"/>
<rect x="1190" y="628" width="1" height="26" fill="#C0C0C0"/>
<rect x="1198" y="628" width="1" height="26" fill="#C0C0C0"/>
<rect x="1206" y="626" width="1" height="28" fill="#C0C0C0"/>
<rect x="1214" y="624" width="1" height="30" fill="#C0C0C0"/>
<rect x="1222" y="625" width="1" height="29" fill="#C0C0C0"/>
<rect x="1230" y="625" width="1" height="29" fill="#C0C0C0"/>
<rect x="1238" y="632" width="1" height="22" fill="#C0C0C0"/>
<rect x="1246" y="637" width="1" height="17" fill="#C0C0C0"/>
<rect x="1254" y="643" width="1" height="11" fill="#C0C0C0"/>
<rect x="1262" y="650" width="1" height="4" fill="#C0C0C0"/>
<rect x="1278" y="653" width="1" height="6" fill="#C0C0C0"/>
<rect x="1286" y="653" width="1" height="8" fill="#C0C0C0"/>
<rect x="1294" y="653" width="1" height="16" fill="#C0C0C0"/>
<rect x="1302" y="653" width="1" height="25" fill="#C0C0C0"/>
<rect x="1310" y="653" width="1" height="30" fill="#C0C0C0"/>
<rect x="1318" y="653" width="1" height="33" fill="#C0C0C0"/>
<rect x="1326" y="653" width="1" height="36" fill="#C0C0C0"/>
<rect x="1334" y="653" width="1" height="43" fill="#C0C0C0"/>
<rect x="1342" y="653" width="1" height="47" fill="#C0C0C0"/>
<rect x="1350" y="653" width="1" height="47" fill="#C0C0C0"/>
<rect x="1358" y="653" width="1" height="48" fill="#C0C0C0"/>
<rect x="1366" y="653" width="1" height="49" fill="#C0C0C0"/>
<rect x="1374" y="653" width="1" height="48" fill="#C0C0C0"/>
<rect x="1382" y="653" width="1" height="52" fill="#C0C0C0"/>
<rect x="1390" y="653" width="1" height="54" fill="#C0C0C0"/>
<rect x="1398" y="653" width="1" height="58" fill="#C0C0C0"/>
<rect x="1406" y="653" width="1" height="62" fill="#C0C0C0"/>
<rect x="1414" y="653" width="1" height="58" fill="#C0C0C0"/>
<rect x="1422" y="653" width="1" height="58" fill="#C0C0C0"/>
<rect x="1430" y="653" width="1" height="58" fill="#C0C0C0"/>
<rect x="1438" y="653" width="1" height="58" fill="#C0C0C0"/>
<rect x="1446" y="653" width="1" height="59" fill="#C0C0C0"/>
<rect x="1454" y="653" width="1" height="59" fill="#C0C0C0"/>
</g>
<polyline points="0.0,626.2 15.0,618.0 30.0,611.2 45.0,603.8 62.5,596.2 80.0,591.2 90.0,586.2 100.0,585.0 125.0,586.2 157.5,585.0 170.0,582.5 212.5,583.0 237.5,587.5 257.5,590.5 275.0,597.5 300.0,613.8 325.0,631.2 350.0,643.8 362.5,647.5 390.0,650.0 412.5,652.0 424.0,653.8 436.5,656.2 454.0,662.5 474.0,666.2 494.0,664.5 519.0,655.0 539.0,653.2 549.0,657.5 574.0,676.2 599.0,700.0 624.0,711.2 649.0,720.0 664.0,722.5 679.0,719.2 699.0,710.0 716.5,702.5 734.0,705.0 749.0,713.8 774.0,743.8 794.0,760.0 809.0,765.0 821.5,762.5 846.5,741.2 868.0,717.5 898.0,687.5 913.0,683.8 923.0,685.0 940.5,696.2 960.5,717.5 978.0,738.8 993.0,750.0 1013.0,755.0 1028.0,752.5 1048.0,740.0 1083.0,708.8 1110.5,687.5 1148.0,671.2 1173.0,661.2 1198.0,646.2 1228.0,628.8 1248.0,627.5 1262.8,631.0 1272.0,634.5 1275.0,635.0 1290.0,645.0 1305.0,656.2 1320.0,666.2 1335.0,676.2 1355.0,687.5 1370.0,694.5 1390.0,700.0 1410.0,705.8 1425.0,708.8 1454.0,711.2" fill="none" stroke="#FF0000" stroke-width="1" stroke-dasharray="3,2" shape-rendering="crispEdges"/>
<line x1="1334" y1="704.5" x2="1450" y2="713.5" stroke="#FF0000" stroke-width="3"/>
<polygon points="1461,715.5 1447,709 1449,720" fill="#FF0000"/>
<text x="-5" y="577" font-size="10" fill="#000" text-anchor="start" font-weight="normal" textLength="153" lengthAdjust="spacingAndGlyphs" >MACD(12,26,9) -0.002845 -0.002820</text>
<g shape-rendering="crispEdges">
<line x1="0" y1="815.5" x2="1649" y2="815.5" stroke="#C0C0C0" stroke-width="1" stroke-dasharray="3,3"/>
<line x1="0" y1="857.5" x2="1649" y2="857.5" stroke="#C0C0C0" stroke-width="1" stroke-dasharray="3,3"/>
<line x1="0" y1="906.5" x2="1649" y2="906.5" stroke="#C0C0C0" stroke-width="1" stroke-dasharray="3,3"/>
</g>
<polyline points="0.0,843.0 6.0,846.2 14.0,847.5 22.0,843.8 30.0,836.2 38.0,829.5 46.0,828.0 54.0,831.2 62.0,829.5 70.0,840.8 78.0,837.5 86.0,842.0 94.0,845.5 102.0,844.5 110.0,843.8 118.0,835.0 126.0,832.5 134.0,824.5 142.0,830.0 150.0,837.0 158.0,837.5 166.0,834.2 174.0,846.2 182.0,856.2 190.0,839.5 198.0,838.2 206.0,839.2 214.0,838.2 222.0,843.0 230.0,844.5 238.0,845.5 246.0,853.0 254.0,851.2 262.0,850.8 270.0,855.5 278.0,855.0 286.0,867.0 294.0,862.5 302.0,861.2 310.0,854.2 318.0,852.5 326.0,863.0 334.0,857.5 342.0,858.8 350.0,860.0 358.0,859.5 366.0,858.0 374.0,845.5 382.0,858.0 390.0,860.0 398.0,859.2 406.0,858.2 414.0,866.2 422.0,869.2 430.0,868.2 438.0,868.2 446.0,870.5 454.0,864.5 462.0,857.5 470.0,860.8 478.0,843.8 486.0,848.0 494.0,845.5 502.0,847.0 510.0,849.2 518.0,849.5 526.0,880.0 534.0,878.8 542.0,880.5 550.0,880.5 558.0,886.2 566.0,876.2 574.0,875.5 582.0,879.2 590.0,880.5 598.0,881.2 606.0,877.5 614.0,880.5 622.0,888.2 630.0,886.2 638.0,886.2 646.0,878.2 654.0,881.2 662.0,866.2 670.0,864.5 678.0,855.8 686.0,852.5 694.0,861.2 702.0,863.8 710.0,868.8 718.0,894.2 726.0,890.5 734.0,889.2 742.0,890.0 750.0,888.2 758.0,895.5 766.0,881.2 774.0,882.5 782.0,879.5 790.0,881.2 798.0,880.0 806.0,868.8 814.0,858.0 822.0,859.2 830.0,857.5 838.0,859.2 846.0,856.2 854.0,855.0 862.0,860.8 870.0,857.5 878.0,858.2 886.0,859.5 894.0,860.0 902.0,872.0 910.0,880.0 918.0,890.0 926.0,890.0 934.0,891.2 942.0,893.2 950.0,890.0 958.0,891.2 966.0,895.0 974.0,895.0 982.0,895.0 990.0,882.0 998.0,880.5 1006.0,880.5 1014.0,872.0 1022.0,870.0 1030.0,865.5 1038.0,865.0 1046.0,859.5 1054.0,863.2 1062.0,864.5 1070.0,871.2 1078.0,860.0 1086.0,849.5 1094.0,856.2 1102.0,864.5 1110.0,861.2 1118.0,863.0 1126.0,866.2 1134.0,854.5 1142.0,852.0 1150.0,848.0 1158.0,842.5 1166.0,841.2 1174.0,840.0 1182.0,835.5 1190.0,845.5 1198.0,850.0 1206.0,844.5 1214.0,843.2 1222.0,849.5 1230.0,847.0 1238.0,863.2 1246.0,859.5 1254.0,864.5 1262.0,868.0 1270.0,867.5 1278.0,869.2 1286.0,863.2 1294.0,875.5 1302.0,879.2 1310.0,874.5 1318.0,874.5 1326.0,873.2 1334.0,884.2 1342.0,878.2 1350.0,873.8 1358.0,875.5 1366.0,876.2 1374.0,876.2 1382.0,876.2 1390.0,887.0 1398.0,889.2 1406.0,884.5 1414.0,874.5 1422.0,875.0 1430.0,881.2 1438.0,882.0 1446.0,881.2 1454.0,880.8" fill="none" stroke="#1E90FF" stroke-width="1" shape-rendering="crispEdges"/>
<line x1="1340" y1="880.5" x2="1448" y2="877" stroke="#FF0000" stroke-width="3"/>
<polygon points="1461,876 1444,871 1446,882" fill="#FF0000"/>
<text x="-8" y="798" font-size="10" fill="#000" text-anchor="start" font-weight="normal" textLength="70" lengthAdjust="spacingAndGlyphs" >RSI(14) 33.3730</text>
<g shape-rendering="crispEdges" fill="#000">
<rect x="0" y="27" width="1650" height="1"/>
<rect x="1649" y="27" width="1" height="536"/>
<rect x="0" y="562" width="1650" height="1"/>
<rect x="0" y="564" width="1650" height="1"/>
<rect x="1649" y="564" width="1" height="220"/>
<rect x="0" y="783" width="1650" height="1"/>
<rect x="0" y="785" width="1650" height="1"/>
<rect x="1649" y="785" width="1" height="144"/>
<rect x="0" y="928" width="1650" height="1"/>
<rect x="1650" y="31" width="3" height="1"/>
<rect x="1650" y="64" width="3" height="1"/>
<rect x="1650" y="97" width="3" height="1"/>
<rect x="1650" y="130" width="3" height="1"/>
<rect x="1650" y="163" width="3" height="1"/>
<rect x="1650" y="196" width="3" height="1"/>
<rect x="1650" y="229" width="3" height="1"/>
<rect x="1650" y="262" width="3" height="1"/>
<rect x="1650" y="295" width="3" height="1"/>
<rect x="1650" y="328" width="3" height="1"/>
<rect x="1650" y="361" width="3" height="1"/>
<rect x="1650" y="394" width="3" height="1"/>
<rect x="1650" y="427" width="3" height="1"/>
<rect x="1650" y="460" width="3" height="1"/>
<rect x="1650" y="493" width="3" height="1"/>
<rect x="1650" y="526" width="3" height="1"/>
<rect x="1650" y="559" width="3" height="1"/>
<rect x="1650" y="566" width="3" height="1"/>
<rect x="1650" y="653" width="3" height="1"/>
<rect x="1650" y="783" width="3" height="1"/>
<rect x="1650" y="787" width="3" height="1"/>
<rect x="1650" y="927" width="3" height="1"/>
<rect x="54" y="929" width="1" height="3"/>
<rect x="118" y="929" width="1" height="3"/>
<rect x="182" y="929" width="1" height="3"/>
<rect x="246" y="929" width="1" height="3"/>
<rect x="310" y="929" width="1" height="3"/>
<rect x="374" y="929" width="1" height="3"/>
<rect x="438" y="929" width="1" height="3"/>
<rect x="502" y="929" width="1" height="3"/>
<rect x="566" y="929" width="1" height="3"/>
<rect x="630" y="929" width="1" height="3"/>
<rect x="694" y="929" width="1" height="3"/>
<rect x="758" y="929" width="1" height="3"/>
<rect x="822" y="929" width="1" height="3"/>
<rect x="886" y="929" width="1" height="3"/>
<rect x="950" y="929" width="1" height="3"/>
<rect x="1014" y="929" width="1" height="3"/>
<rect x="1078" y="929" width="1" height="3"/>
<rect x="1142" y="929" width="1" height="3"/>
<rect x="1206" y="929" width="1" height="3"/>
<rect x="1270" y="929" width="1" height="3"/>
<rect x="1334" y="929" width="1" height="3"/>
<rect x="1398" y="929" width="1" height="3"/>
</g>
<text x="1655.5" y="35" font-size="9.6" fill="#000" text-anchor="start" font-weight="normal" textLength="32" lengthAdjust="spacingAndGlyphs" >1.38820</text>
<text x="1655.5" y="68" font-size="9.6" fill="#000" text-anchor="start" font-weight="normal" textLength="32" lengthAdjust="spacingAndGlyphs" >1.38440</text>
<text x="1655.5" y="101" font-size="9.6" fill="#000" text-anchor="start" font-weight="normal" textLength="32" lengthAdjust="spacingAndGlyphs" >1.38050</text>
<text x="1655.5" y="134" font-size="9.6" fill="#000" text-anchor="start" font-weight="normal" textLength="32" lengthAdjust="spacingAndGlyphs" >1.37670</text>
<text x="1655.5" y="167" font-size="9.6" fill="#000" text-anchor="start" font-weight="normal" textLength="32" lengthAdjust="spacingAndGlyphs" >1.37280</text>
<text x="1655.5" y="200" font-size="9.6" fill="#000" text-anchor="start" font-weight="normal" textLength="32" lengthAdjust="spacingAndGlyphs" >1.36900</text>
<text x="1655.5" y="233" font-size="9.6" fill="#000" text-anchor="start" font-weight="normal" textLength="32" lengthAdjust="spacingAndGlyphs" >1.36520</text>
<text x="1655.5" y="266" font-size="9.6" fill="#000" text-anchor="start" font-weight="normal" textLength="32" lengthAdjust="spacingAndGlyphs" >1.36130</text>
<text x="1655.5" y="299" font-size="9.6" fill="#000" text-anchor="start" font-weight="normal" textLength="32" lengthAdjust="spacingAndGlyphs" >1.35750</text>
<text x="1655.5" y="332" font-size="9.6" fill="#000" text-anchor="start" font-weight="normal" textLength="32" lengthAdjust="spacingAndGlyphs" >1.35370</text>
<text x="1655.5" y="365" font-size="9.6" fill="#000" text-anchor="start" font-weight="normal" textLength="32" lengthAdjust="spacingAndGlyphs" >1.34980</text>
<text x="1655.5" y="398" font-size="9.6" fill="#000" text-anchor="start" font-weight="normal" textLength="32" lengthAdjust="spacingAndGlyphs" >1.34600</text>
<text x="1655.5" y="431" font-size="9.6" fill="#000" text-anchor="start" font-weight="normal" textLength="32" lengthAdjust="spacingAndGlyphs" >1.34210</text>
<text x="1655.5" y="464" font-size="9.6" fill="#000" text-anchor="start" font-weight="normal" textLength="32" lengthAdjust="spacingAndGlyphs" >1.33830</text>
<text x="1655.5" y="530" font-size="9.6" fill="#000" text-anchor="start" font-weight="normal" textLength="32" lengthAdjust="spacingAndGlyphs" >1.33060</text>
<text x="1655.5" y="563" font-size="9.6" fill="#000" text-anchor="start" font-weight="normal" textLength="32" lengthAdjust="spacingAndGlyphs" >1.32680</text>
<rect x="1651" y="441" width="41" height="11" fill="#FF5A00" shape-rendering="crispEdges"/>
<text x="1655.5" y="450" font-size="9.6" fill="#fff" text-anchor="start" font-weight="normal" textLength="32" lengthAdjust="spacingAndGlyphs" >1.33979</text>
<rect x="1651" y="468" width="41" height="11" fill="#FF0000" shape-rendering="crispEdges"/>
<text x="1655.5" y="477" font-size="9.6" fill="#fff" text-anchor="start" font-weight="normal" textLength="32" lengthAdjust="spacingAndGlyphs" >1.33665</text>
<rect x="1651" y="490" width="41" height="11" fill="#32CD32" shape-rendering="crispEdges"/>
<text x="1655.5" y="499" font-size="9.6" fill="#fff" text-anchor="start" font-weight="normal" textLength="32" lengthAdjust="spacingAndGlyphs" >1.33409</text>
<rect x="1651" y="509" width="41" height="11" fill="#000000" shape-rendering="crispEdges"/>
<text x="1655.5" y="518" font-size="9.6" fill="#fff" text-anchor="start" font-weight="normal" textLength="32" lengthAdjust="spacingAndGlyphs" >1.33208</text>
<rect x="1651" y="526" width="41" height="11" fill="#0000FF" shape-rendering="crispEdges"/>
<text x="1655.5" y="535" font-size="9.6" fill="#fff" text-anchor="start" font-weight="normal" textLength="32" lengthAdjust="spacingAndGlyphs" >1.32991</text>
<rect x="1651" y="547" width="41" height="11" fill="#0000FF" shape-rendering="crispEdges"/>
<text x="1655.5" y="556" font-size="9.6" fill="#fff" text-anchor="start" font-weight="normal" textLength="32" lengthAdjust="spacingAndGlyphs" >1.32746</text>
<text x="1653" y="575" font-size="9.6" fill="#000" text-anchor="start" font-weight="normal" textLength="38" lengthAdjust="spacingAndGlyphs" >0.004128</text>
<text x="1653" y="657" font-size="9.6" fill="#000" text-anchor="start" font-weight="normal" textLength="19" lengthAdjust="spacingAndGlyphs" >0.00</text>
<text x="1653" y="780" font-size="9.6" fill="#000" text-anchor="start" font-weight="normal" textLength="40.5" lengthAdjust="spacingAndGlyphs" >-0.006132</text>
<text x="1653.5" y="796" font-size="9.6" fill="#000" text-anchor="start" font-weight="normal" textLength="16" lengthAdjust="spacingAndGlyphs" >100</text>
<text x="1652.5" y="819" font-size="9.6" fill="#000" text-anchor="start" font-weight="normal" textLength="11" lengthAdjust="spacingAndGlyphs" >80</text>
<text x="1652.5" y="861" font-size="9.6" fill="#000" text-anchor="start" font-weight="normal" textLength="11" lengthAdjust="spacingAndGlyphs" >50</text>
<text x="1652.5" y="910" font-size="9.6" fill="#000" text-anchor="start" font-weight="normal" textLength="11" lengthAdjust="spacingAndGlyphs" >15</text>
<text x="1653" y="925" font-size="9.6" fill="#000" text-anchor="start" font-weight="normal" textLength="5.5" lengthAdjust="spacingAndGlyphs" >0</text>
<text x="54" y="941" font-size="9.6" fill="#000" text-anchor="start" font-weight="normal" textLength="53.5" lengthAdjust="spacingAndGlyphs" >15 Oct 16:00</text>
<text x="118" y="941" font-size="9.6" fill="#000" text-anchor="start" font-weight="normal" textLength="53.5" lengthAdjust="spacingAndGlyphs" >19 Oct 00:00</text>
<text x="182" y="941" font-size="9.6" fill="#000" text-anchor="start" font-weight="normal" textLength="53.5" lengthAdjust="spacingAndGlyphs" >20 Oct 08:00</text>
<text x="246" y="941" font-size="9.6" fill="#000" text-anchor="start" font-weight="normal" textLength="53.5" lengthAdjust="spacingAndGlyphs" >21 Oct 16:00</text>
<text x="310" y="941" font-size="9.6" fill="#000" text-anchor="start" font-weight="normal" textLength="53.5" lengthAdjust="spacingAndGlyphs" >25 Oct 00:00</text>
<text x="374" y="941" font-size="9.6" fill="#000" text-anchor="start" font-weight="normal" textLength="53.5" lengthAdjust="spacingAndGlyphs" >26 Oct 08:00</text>
<text x="438" y="941" font-size="9.6" fill="#000" text-anchor="start" font-weight="normal" textLength="53.5" lengthAdjust="spacingAndGlyphs" >27 Oct 16:00</text>
<text x="502" y="941" font-size="9.6" fill="#000" text-anchor="start" font-weight="normal" textLength="53.5" lengthAdjust="spacingAndGlyphs" >29 Oct 00:00</text>
<text x="566" y="941" font-size="9.6" fill="#000" text-anchor="start" font-weight="normal" textLength="50.5" lengthAdjust="spacingAndGlyphs" >1 Nov 08:00</text>
<text x="630" y="941" font-size="9.6" fill="#000" text-anchor="start" font-weight="normal" textLength="50.5" lengthAdjust="spacingAndGlyphs" >2 Nov 16:00</text>
<text x="694" y="941" font-size="9.6" fill="#000" text-anchor="start" font-weight="normal" textLength="50.5" lengthAdjust="spacingAndGlyphs" >4 Nov 00:00</text>
<text x="758" y="941" font-size="9.6" fill="#000" text-anchor="start" font-weight="normal" textLength="50.5" lengthAdjust="spacingAndGlyphs" >5 Nov 08:00</text>
<text x="822" y="941" font-size="9.6" fill="#000" text-anchor="start" font-weight="normal" textLength="50.5" lengthAdjust="spacingAndGlyphs" >8 Nov 16:00</text>
<text x="886" y="941" font-size="9.6" fill="#000" text-anchor="start" font-weight="normal" textLength="55.5" lengthAdjust="spacingAndGlyphs" >10 Nov 00:00</text>
<text x="950" y="941" font-size="9.6" fill="#000" text-anchor="start" font-weight="normal" textLength="55.5" lengthAdjust="spacingAndGlyphs" >11 Nov 08:00</text>
<text x="1014" y="941" font-size="9.6" fill="#000" text-anchor="start" font-weight="normal" textLength="55.5" lengthAdjust="spacingAndGlyphs" >12 Nov 16:00</text>
<text x="1078" y="941" font-size="9.6" fill="#000" text-anchor="start" font-weight="normal" textLength="55.5" lengthAdjust="spacingAndGlyphs" >16 Nov 00:00</text>
<text x="1142" y="941" font-size="9.6" fill="#000" text-anchor="start" font-weight="normal" textLength="55.5" lengthAdjust="spacingAndGlyphs" >17 Nov 08:00</text>
<text x="1206" y="941" font-size="9.6" fill="#000" text-anchor="start" font-weight="normal" textLength="55.5" lengthAdjust="spacingAndGlyphs" >18 Nov 16:00</text>
<text x="1270" y="941" font-size="9.6" fill="#000" text-anchor="start" font-weight="normal" textLength="55.5" lengthAdjust="spacingAndGlyphs" >22 Nov 00:00</text>
<text x="1334" y="941" font-size="9.6" fill="#000" text-anchor="start" font-weight="normal" textLength="55.5" lengthAdjust="spacingAndGlyphs" >23 Nov 08:00</text>
<text x="1398" y="941" font-size="9.6" fill="#000" text-anchor="start" font-weight="normal" textLength="55.5" lengthAdjust="spacingAndGlyphs" >24 Nov 16:00</text>
<text x="4" y="941" font-size="9.6" fill="#000" text-anchor="start" font-weight="normal" textLength="37" lengthAdjust="spacingAndGlyphs" >Oct 2021</text>
<g shape-rendering="crispEdges">
<rect x="0" y="0" width="1696" height="23" fill="#F0F0F0"/>
<rect x="0" y="22" width="1696" height="1" fill="#C8C8C8"/>
<rect x="0" y="23" width="1696" height="1" fill="#9A9A9A"/>
<rect x="0" y="24" width="1696" height="1" fill="#707070"/>
<rect x="1695" y="25" width="1" height="916" fill="#F0F0F0"/>
<defs><pattern id="chk" width="2" height="2" patternUnits="userSpaceOnUse"><rect width="2" height="2" fill="#F4F4F4"/><rect width="1" height="1" fill="#E4E4E4"/><rect x="1" y="1" width="1" height="1" fill="#E4E4E4"/></pattern></defs>
<rect x="285" y="0" width="25" height="21" fill="url(#chk)"/><rect x="284" y="0" width="1" height="21" fill="#A0A0A0"/><rect x="285" y="21" width="26" height="1" fill="#FFFFFF"/><rect x="310" y="0" width="1" height="21" fill="#FFFFFF"/>
<rect x="437" y="0" width="24" height="21" fill="url(#chk)"/><rect x="436" y="0" width="1" height="21" fill="#A0A0A0"/><rect x="437" y="21" width="25" height="1" fill="#FFFFFF"/><rect x="461" y="0" width="1" height="21" fill="#FFFFFF"/>
<rect x="465" y="0" width="24" height="21" fill="url(#chk)"/><rect x="464" y="0" width="1" height="21" fill="#A0A0A0"/><rect x="465" y="21" width="25" height="1" fill="#FFFFFF"/><rect x="489" y="0" width="1" height="21" fill="#FFFFFF"/>
<rect x="625" y="0" width="24" height="21" fill="url(#chk)"/><rect x="624" y="0" width="1" height="21" fill="#A0A0A0"/><rect x="625" y="21" width="25" height="1" fill="#FFFFFF"/><rect x="649" y="0" width="1" height="21" fill="#FFFFFF"/>
<rect x="1071" y="0" width="24" height="21" fill="url(#chk)"/><rect x="1070" y="0" width="1" height="21" fill="#A0A0A0"/><rect x="1071" y="21" width="25" height="1" fill="#FFFFFF"/><rect x="1095" y="0" width="1" height="21" fill="#FFFFFF"/>
<rect x="10" y="0" width="1" height="21" fill="#A0A0A0"/><rect x="11" y="0" width="1" height="21" fill="#FFFFFF"/>
<rect x="246" y="0" width="1" height="21" fill="#A0A0A0"/><rect x="247" y="0" width="1" height="21" fill="#FFFFFF"/>
<rect x="341" y="0" width="1" height="21" fill="#A0A0A0"/><rect x="342" y="0" width="1" height="21" fill="#FFFFFF"/>
<rect x="431" y="0" width="1" height="21" fill="#A0A0A0"/><rect x="432" y="0" width="1" height="21" fill="#FFFFFF"/>
<rect x="493" y="0" width="1" height="21" fill="#A0A0A0"/><rect x="494" y="0" width="1" height="21" fill="#FFFFFF"/>
<rect x="614" y="0" width="1" height="21" fill="#A0A0A0"/><rect x="615" y="0" width="1" height="21" fill="#FFFFFF"/>
<rect x="681" y="0" width="1" height="21" fill="#A0A0A0"/><rect x="682" y="0" width="1" height="21" fill="#FFFFFF"/>
<rect x="920" y="0" width="1" height="21" fill="#A0A0A0"/><rect x="921" y="0" width="1" height="21" fill="#FFFFFF"/>
<rect x="1181" y="0" width="1" height="21" fill="#A0A0A0"/><rect x="1182" y="0" width="1" height="21" fill="#FFFFFF"/>
<rect x="250" y="1" width="3" height="1" fill="#A8A8A8"/>
<rect x="250" y="3" width="3" height="1" fill="#A8A8A8"/>
<rect x="250" y="5" width="3" height="1" fill="#A8A8A8"/>
<rect x="250" y="7" width="3" height="1" fill="#A8A8A8"/>
<rect x="250" y="9" width="3" height="1" fill="#A8A8A8"/>
<rect x="250" y="11" width="3" height="1" fill="#A8A8A8"/>
<rect x="250" y="13" width="3" height="1" fill="#A8A8A8"/>
<rect x="250" y="15" width="3" height="1" fill="#A8A8A8"/>
<rect x="250" y="17" width="3" height="1" fill="#A8A8A8"/>
<rect x="250" y="19" width="3" height="1" fill="#A8A8A8"/>
<rect x="618" y="1" width="3" height="1" fill="#A8A8A8"/>
<rect x="618" y="3" width="3" height="1" fill="#A8A8A8"/>
<rect x="618" y="5" width="3" height="1" fill="#A8A8A8"/>
<rect x="618" y="7" width="3" height="1" fill="#A8A8A8"/>
<rect x="618" y="9" width="3" height="1" fill="#A8A8A8"/>
<rect x="618" y="11" width="3" height="1" fill="#A8A8A8"/>
<rect x="618" y="13" width="3" height="1" fill="#A8A8A8"/>
<rect x="618" y="15" width="3" height="1" fill="#A8A8A8"/>
<rect x="618" y="17" width="3" height="1" fill="#A8A8A8"/>
<rect x="618" y="19" width="3" height="1" fill="#A8A8A8"/>
<rect x="924" y="1" width="3" height="1" fill="#A8A8A8"/>
<rect x="924" y="3" width="3" height="1" fill="#A8A8A8"/>
<rect x="924" y="5" width="3" height="1" fill="#A8A8A8"/>
<rect x="924" y="7" width="3" height="1" fill="#A8A8A8"/>
<rect x="924" y="9" width="3" height="1" fill="#A8A8A8"/>
<rect x="924" y="11" width="3" height="1" fill="#A8A8A8"/>
<rect x="924" y="13" width="3" height="1" fill="#A8A8A8"/>
<rect x="924" y="15" width="3" height="1" fill="#A8A8A8"/>
<rect x="924" y="17" width="3" height="1" fill="#A8A8A8"/>
<rect x="924" y="19" width="3" height="1" fill="#A8A8A8"/>
</g>
<polygon points="0,13 3,16 1,20 0,20" fill="#D0A030"/>
<path d="M20.5,3.5 h8 l3,3 v10 h-11 z" fill="#FCFCFC" stroke="#707070"/><path d="M28.5,3.5 v3 h3" fill="#E0E0E0" stroke="#909090"/><path d="M22,6.5h3M22,9.5h6M22,12.5h3" stroke="#A0A0A0"/><path d="M28.5,9 h3.5 v4 h4 v3.5 h-4 v4 h-3.5 v-4 h-4 v-3.5 h4z" fill="#30D030" stroke="#108010"/><path d="M19.5,16 l1.5,1.5 l-1.5,1.5 l-1.5,-1.5z" fill="#fff" stroke="#000" stroke-width="0.8"/>
<path transform="translate(39,4)" d="M3,0V1.5M0.5,1.5H5.5M1.5,2.5L2,3.5M4.5,2.5L4,3.5M0,4.5H6M0.5,6.5H5.5M3,4.5V10.5M3,7L0.5,9.5M3,7L5.5,9M10.5,0.5L7.5,1.5V7L6.5,10.5M7.5,4.5H11M9.5,4.5V10.5" stroke="#101010" stroke-width="1" fill="none" stroke-linecap="square"/>
<path transform="translate(51,4)" d="M1,0.5L2,1.5M0,3.5H2V9L3,8M4,1.5H11M8,1.5V10.5L6.5,9.5" stroke="#101010" stroke-width="1" fill="none" stroke-linecap="square"/>
<path transform="translate(63,4)" d="M2.5,0L3.5,1.5M8.5,0L7.5,1.5M1.5,2.5H9.5V7.5H1.5ZM1.5,5H9.5M5.5,2.5V10.5M0,9H11" stroke="#101010" stroke-width="1" fill="none" stroke-linecap="square"/>
<defs><linearGradient id="gGold" x1="0" y1="0" x2="1" y2="1"><stop offset="0" stop-color="#FFE070"/><stop offset="1" stop-color="#C89018"/></linearGradient></defs>
<path d="M87.5,12.5 L95,5 L102.5,10.5 L96,18.5 Z" fill="url(#gGold)" stroke="#A87010"/><path d="M88,13 L96,18.5 L96,19.5 L87.5,14Z" fill="#B07818"/>
<path d="M117.5,4.5 l2,-1.5 h8 v9 h-10z" fill="#2E8EE8" stroke="#1060C0"/><rect x="121" y="7" width="5" height="2" fill="#E0F0FF"/><path d="M116,17 q-1,-3 2,-3.5 q1,-3 4.5,-2 q2,-2 4.5,0 q3,0 3,3 q1.5,1 0.5,2.5 z" fill="#F0F2F8" stroke="#5070A8"/>
<g fill="none"><circle cx="151" cy="10.5" r="7.3" stroke="#7098E0" stroke-width="1"/><circle cx="151" cy="10.5" r="4.5" stroke="#90B0E0" stroke-width="1"/><path d="M151,3.2 a7.3,7.3 0 0 1 0,14.6" stroke="#60B060" stroke-width="1.2"/><circle cx="151" cy="10.5" r="1.6" fill="#2050C0"/><path d="M151.5,11 V18.5" stroke="#20A020" stroke-width="1.2"/></g>
<g><path d="M171,17 L170,10 L183,10 L181,18 Z" fill="#F8E060" stroke="#D0A020" stroke-width="0.8"/><ellipse cx="178" cy="8" rx="8" ry="2.8" fill="#60B0E8" stroke="#2070B0" stroke-width="0.8"/><ellipse cx="178" cy="6" rx="4" ry="3" fill="#80C8F0" stroke="#2070B0" stroke-width="0.8"/><circle cx="182.3" cy="14.6" r="4" fill="#E02010" stroke="#A01000" stroke-width="0.6"/><rect x="180.6" y="12.9" width="3.4" height="3.4" fill="#fff"/></g>
<path transform="translate(192,4)" d="M5.5,0L4.5,1.5M1.5,1.5H9.5V10.5H1.5ZM1.5,4.5H9.5M1.5,7.5H9.5" stroke="#101010" stroke-width="1" fill="none" stroke-linecap="square"/>
<path transform="translate(204,4)" d="M0.5,1.5H5M0,3.5H6M3,3.5L0.5,8.5L5.5,7.5M4,6L5.5,8.5M6.5,3.5H11V10L9.5,9.5M9,0V4.5L6.5,10.5" stroke="#101010" stroke-width="1" fill="none" stroke-linecap="square"/>
<path transform="translate(216,4)" d="M5.5,0V1.5M0,2.5H11M3.5,3.5L1,6M7.5,3.5L10,6M2.5,5.5L9.5,10.5M8.5,5.5L1,10.5" stroke="#101010" stroke-width="1" fill="none" stroke-linecap="square"/>
<path transform="translate(228,4)" d="M1.5,0.5H9.5V5H1.5ZM1.5,2.7H9.5M3,5L0.5,8M2,6.5H10.5V10.5L9,10M5.5,6.5L2.5,10.5M8,6.5L5,10.5" stroke="#101010" stroke-width="1" fill="none" stroke-linecap="square"/>
<g shape-rendering="crispEdges" fill="#555"><rect x="264" y="5" width="1" height="14"/><rect x="262" y="16" width="14" height="1"/><rect x="263" y="6" width="3" height="1"/><rect x="274" y="15" width="1" height="3"/></g>
<path d="M268,13.5 h2.5 V6.5 h2.5" stroke="#109010" stroke-width="1" fill="none" shape-rendering="crispEdges"/>
<g shape-rendering="crispEdges" fill="#555"><rect x="292" y="5" width="1" height="14"/><rect x="290" y="16" width="14" height="1"/><rect x="291" y="6" width="3" height="1"/><rect x="302" y="15" width="1" height="3"/></g>
<rect x="296.5" y="5.5" width="4" height="7" fill="#40E040" stroke="#108010"/><path d="M298.5,3 v2.5 M298.5,12.5 v2.5" stroke="#108010"/>
<g shape-rendering="crispEdges" fill="#555"><rect x="320" y="5" width="1" height="14"/><rect x="318" y="16" width="14" height="1"/><rect x="319" y="6" width="3" height="1"/><rect x="330" y="15" width="1" height="3"/></g>
<path d="M319.5,13.5 Q324,6 326,8.5 T331,12" stroke="#30A030" stroke-width="1" fill="none"/>
<g><path d="M360,13 l5.5,5.5" stroke="#B88010" stroke-width="3"/><path d="M360,13 l5.5,5.5" stroke="#F0D050" stroke-width="1.6"/><circle cx="356" cy="8.7" r="5.6" fill="#D8F0FF" stroke="#3A7CC8" stroke-width="1.2"/><path d="M353,8.7 h6 M356,5.7 v6" stroke="#4A88A8" stroke-width="1.6"/></g>
<g><path d="M388,13 l5.5,5.5" stroke="#B88010" stroke-width="3"/><path d="M388,13 l5.5,5.5" stroke="#F0D050" stroke-width="1.6"/><circle cx="384" cy="8.7" r="5.6" fill="#D8F0FF" stroke="#3A7CC8" stroke-width="1.2"/><path d="M381,8.7 h6" stroke="#4A88A8" stroke-width="1.6"/></g>
<g shape-rendering="crispEdges"><rect x="406" y="3" width="8" height="8" fill="#30A020"/><rect x="414" y="3" width="8" height="8" fill="#2050D0"/><rect x="406" y="11" width="8" height="8" fill="#2050D0"/><rect x="414" y="11" width="8" height="8" fill="#30A020"/><path d="M407.5,6.5h5v2h-5zM415.5,6.5h5v2h-5zM407.5,14.5h5v2h-5zM415.5,14.5h5v2h-5z" fill="#fff"/></g>
<g shape-rendering="crispEdges" fill="#555"><rect x="444" y="5" width="1" height="14"/><rect x="442" y="16" width="14" height="1"/><rect x="443" y="6" width="3" height="1"/><rect x="454" y="15" width="1" height="3"/></g>
<polygon points="449,7 449,14 453,10.5" fill="#40D040" stroke="#109010" stroke-width="0.8"/>
<g shape-rendering="crispEdges" fill="#555"><rect x="472" y="5" width="1" height="14"/><rect x="470" y="16" width="14" height="1"/><rect x="471" y="6" width="3" height="1"/><rect x="482" y="15" width="1" height="3"/></g>
<path d="M478.5,5 v10" stroke="#1070B0" stroke-width="1"/><polygon points="479.5,10.5 482,8.5 482,10 484,10 484,11 482,11 482,12.5" fill="#E05010" stroke="#A03000" stroke-width="0.5"/>
<path d="M503.5,3.5 h7 l3,3 v10 h-10z" fill="#FAFAFA" stroke="#808080"/><path d="M506,7 q-1,4 0,8" stroke="#606060" fill="none"/><path d="M511,9.5 h3 v3 h3 v3 h-3 v3 h-3 v-3 h-3 v-3 h3z" fill="#40E040" stroke="#108010"/>
<polygon points="525,10 530,10 527.5,13" fill="#000"/>
<g><circle cx="549" cy="10.6" r="7.8" fill="#2070D8" stroke="#1050A8" stroke-width="0.8"/><circle cx="549" cy="10.6" r="5.6" fill="#F4F8FF"/><path d="M548.5,7 v4 h3" stroke="#303030" stroke-width="1.2" fill="none"/></g>
<polygon points="564,10 569,10 566.5,13" fill="#000"/>
<g><rect x="580.5" y="4.5" width="15" height="13" fill="#F8FBFF" stroke="#3068B8"/><rect x="581" y="5" width="14" height="1.5" fill="#70A0E0"/><path d="M582,10.5 l2,0 l2,-1 l2,1 l2,-1.5 l2,0.5 l2,-1" stroke="#A02010" fill="none"/><path d="M581,12 h14" stroke="#3068B8"/><path d="M582,15 l2,-1 l2,0.5 l2,-1 l2,-1 l2,2" stroke="#109010" fill="none"/></g>
<polygon points="603,10 608,10 605.5,13" fill="#000"/>
<polygon points="632,4 632,15 634.5,12.8 637.5,18.5 639.5,17.5 636.8,11.8 640.5,11.8" fill="#505050"/>
<path d="M664.5,4 v6 M664.5,13 v6 M657,11.5 h6 M666,11.5 h6" stroke="#505050" stroke-width="1" shape-rendering="crispEdges"/>
<path d="M698.5,5 v13" stroke="#505050" stroke-width="1" shape-rendering="crispEdges"/>
<path d="M721,11.5 h12" stroke="#505050" stroke-width="1" shape-rendering="crispEdges"/>
<path d="M748.5,18 L761,6" stroke="#505050" stroke-width="1"/>
<path d="M775,14.5 L786,4.5 M778.5,18.5 L789.5,8.5 M777,11 l2,4 M780.5,9 l0.5,5 l1.5,-1 M783.5,6.5 l0.5,5 M786.5,3 v6 l1,-1 M789,6 l-1,2" stroke="#383838" stroke-width="1" fill="none"/>
<text x="786" y="20" font-size="6.5" fill="#404040" text-anchor="start" font-weight="bold" >E</text>
<path d="M804,4.5 h13 M804,7.5 h13 M804,11.5 h13 M804,15.5 h9" stroke="#505050" stroke-dasharray="1,1" shape-rendering="crispEdges"/>
<text x="813.8" y="20.5" font-size="7" fill="#404040" text-anchor="start" font-weight="bold" >F</text>
<text x="834.5" y="15.5" font-size="11.5" fill="#505050" text-anchor="start" font-weight="bold" >A</text>
<rect x="861.5" y="5.5" width="11" height="12" fill="none" stroke="#505050" stroke-dasharray="1,1" shape-rendering="crispEdges"/>
<text x="863" y="15.5" font-size="11" fill="#505050" text-anchor="start" font-weight="bold" >T</text>
<path d="M888,8.5 l3.5,-3.5 l3.5,3.5 l-3.5,1.5z M895,15 l3.5,3.5 l3.5,-3.5 l-3.5,-1.5z" fill="#505050"/><path d="M890,11.5 l3,2.5 l3.5,-4.5" stroke="#505050" stroke-width="1.4" fill="none"/>
<polygon points="909,10 914,10 911.5,13" fill="#000"/>
<text x="935.5" y="15" font-size="10" fill="#404040" text-anchor="start" font-weight="normal" textLength="12.5" lengthAdjust="spacingAndGlyphs" >M1</text>
<text x="963.5" y="15" font-size="10" fill="#404040" text-anchor="start" font-weight="normal" textLength="12.5" lengthAdjust="spacingAndGlyphs" >M5</text>
<text x="989.5" y="15" font-size="10" fill="#404040" text-anchor="start" font-weight="normal" textLength="17.5" lengthAdjust="spacingAndGlyphs" >M15</text>
<text x="1017.5" y="15" font-size="10" fill="#404040" text-anchor="start" font-weight="normal" textLength="17.5" lengthAdjust="spacingAndGlyphs" >M30</text>
<text x="1048" y="15" font-size="10" fill="#404040" text-anchor="start" font-weight="normal" textLength="12" lengthAdjust="spacingAndGlyphs" >H1</text>
<text x="1075.5" y="15" font-size="10" fill="#404040" text-anchor="start" font-weight="normal" textLength="12.5" lengthAdjust="spacingAndGlyphs" >H4</text>
<text x="1104.5" y="15" font-size="10" fill="#404040" text-anchor="start" font-weight="normal" textLength="11.5" lengthAdjust="spacingAndGlyphs" >D1</text>
<text x="1132" y="15" font-size="10" fill="#404040" text-anchor="start" font-weight="normal" textLength="14" lengthAdjust="spacingAndGlyphs" >W1</text>
<text x="1158.5" y="15" font-size="10" fill="#404040" text-anchor="start" font-weight="normal" textLength="14.5" lengthAdjust="spacingAndGlyphs" >MN</text>
<g><circle cx="1650.5" cy="9" r="4.3" fill="none" stroke="#2D6FD8" stroke-width="1.6"/><line x1="1647.5" y1="12" x2="1643.5" y2="16" stroke="#2D6FD8" stroke-width="2.2" stroke-linecap="round"/></g>
<g><ellipse cx="1674" cy="13" rx="5.5" ry="4" fill="#E4E4EC" stroke="#B8B8C0"/><path d="M1671,16 l-1,3 l3,-2" fill="#E4E4EC" stroke="#B8B8C0"/><circle cx="1681.5" cy="8.3" r="7.7" fill="#E03818"/><text x="1681.5" y="12.5" font-size="11" fill="#fff" text-anchor="middle">1</text></g>
</svg></body></html>
